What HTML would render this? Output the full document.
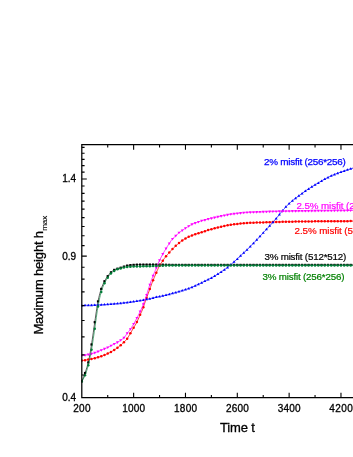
<!DOCTYPE html>
<html><head><meta charset="utf-8"><title>Maximum height vs time</title>
<style>
html,body{margin:0;padding:0;background:#fff;}
body{width:353px;height:457px;overflow:hidden;position:relative;font-family:"Liberation Sans",sans-serif;}
svg text{font-family:"Liberation Sans",sans-serif;}
</style></head><body>
<svg width="353" height="457" viewBox="0 0 353 457" style="position:absolute;left:0;top:0;will-change:transform;opacity:0.999">
<rect width="353" height="457" fill="#fff"/>
<g clip-path="url(#cp)">
<path d="M81.8,381.2 L82.3,380.1 L82.8,378.9 L83.3,377.7 L83.8,376.4 L84.3,375.1 L84.8,373.7 L85.3,372.2 L85.8,370.8 L86.3,369.3 L86.8,367.7 L87.3,366.1 L87.8,364.3 L88.3,362.3 L88.8,360.1 L89.3,357.6 L89.8,354.8 L90.3,351.9 L90.8,348.9 L91.3,345.8 L91.8,342.7 L92.3,339.4 L92.8,335.9 L93.3,332.4 L93.8,328.8 L94.3,325.3 L94.8,321.9 L95.3,318.5 L95.8,315.0 L96.3,311.6 L96.8,308.3 L97.3,305.2 L97.8,302.4 L98.3,300.0 L98.8,297.7 L99.3,295.6 L99.8,293.7 L100.3,291.9 L100.8,290.2 L101.3,288.7 L101.8,287.3 L102.3,286.0 L102.8,284.8 L103.3,283.6 L103.8,282.6 L104.3,281.6 L104.8,280.6 L105.3,279.8 L105.8,279.0 L106.3,278.2 L106.8,277.4 L107.3,276.7 L107.8,276.1 L108.3,275.4 L108.8,274.8 L109.3,274.1 L109.8,273.5 L110.3,273.0 L110.8,272.5 L111.3,272.0 L111.8,271.6 L112.3,271.2 L112.8,270.8 L113.3,270.4 L113.8,270.1 L114.3,269.9 L114.8,269.6 L115.3,269.4 L115.8,269.2 L116.3,269.1 L116.8,268.9 L117.3,268.7 L117.8,268.6 L118.3,268.4 L118.8,268.3 L119.3,268.1 L119.8,268.0 L120.3,267.8 L120.8,267.7 L121.3,267.5 L121.8,267.3 L122.3,267.2 L122.8,267.0 L123.3,266.8 L123.8,266.6 L124.3,266.5 L124.8,266.3 L125.3,266.1 L125.8,266.0 L126.3,265.8 L126.8,265.7 L127.3,265.6 L127.8,265.5 L128.3,265.4 L128.8,265.3 L129.3,265.3 L129.8,265.2 L130.3,265.1 L130.8,265.1 L131.3,265.0 L131.8,265.0 L132.3,264.9 L132.8,264.9 L133.3,264.9 L133.8,264.8 L134.3,264.8 L134.8,264.8 L135.3,264.8 L135.8,264.7 L136.3,264.7 L136.8,264.7 L137.3,264.7 L137.8,264.6 L138.3,264.6 L138.8,264.6 L139.3,264.6 L139.8,264.6 L140.3,264.6 L140.8,264.6 L141.3,264.6 L141.8,264.6 L142.3,264.6 L142.8,264.6 L143.3,264.6 L143.8,264.6 L144.3,264.6 L144.8,264.6 L145.3,264.6 L145.8,264.6 L146.3,264.6 L146.8,264.6 L147.3,264.6 L147.8,264.6 L148.3,264.6 L148.8,264.6 L149.3,264.6 L149.8,264.6 L150.3,264.6 L150.8,264.6 L151.3,264.6 L151.8,264.6 L152.3,264.6 L152.8,264.6 L153.3,264.6 L153.8,264.6 L154.3,264.6 L154.8,264.6 L155.3,264.6 L155.8,264.6 L156.3,264.6 L156.8,264.6 L157.3,264.6 L157.8,264.6 L158.3,264.6 L158.8,264.6 L159.3,264.6 L159.8,264.6 L160.3,264.6 L160.8,264.6 L161.3,264.6 L161.8,264.6 L162.3,264.7 L162.8,264.7 L163.3,264.7 L163.8,264.7 L164.3,264.7 L164.8,264.7 L165.3,264.7 L165.8,264.7 L166.3,264.8 L166.8,264.8 L167.3,264.8 L167.8,264.8 L168.3,264.8 L168.8,264.8 L169.3,264.8 L169.8,264.8 L170.3,264.9 L170.8,264.9 L171.3,264.9 L171.8,264.9 L172.3,264.9 L172.8,264.9 L173.3,264.9 L173.8,264.9 L174.3,264.9 L174.8,264.9 L175.3,264.9 L175.8,264.9 L176.3,264.9 L176.8,264.9 L177.3,264.9 L177.8,264.9 L178.3,264.9 L178.8,264.9 L179.3,264.9 L179.8,264.9 L180.3,264.9 L180.8,264.9 L181.3,264.9 L181.8,264.9 L182.3,264.9 L182.8,264.9 L183.3,264.9 L183.8,264.9 L184.3,264.9 L184.8,264.9 L185.3,264.9 L185.8,264.9 L186.3,264.9 L186.8,264.9 L187.3,264.9 L187.8,264.9 L188.3,264.9 L188.8,264.9 L189.3,264.9 L189.8,264.9 L190.3,264.9 L190.8,264.9 L191.3,264.9 L191.8,264.9 L192.3,264.9 L192.8,264.9 L193.3,264.9 L193.8,264.9 L194.3,264.9 L194.8,264.9 L195.3,264.9 L195.8,264.9 L196.3,264.9 L196.8,264.9 L197.3,264.9 L197.8,264.9 L198.3,264.9 L198.8,264.9 L199.3,264.9 L199.8,264.9 L200.3,264.9 L200.8,264.9 L201.3,264.9 L201.8,264.9 L202.3,264.9 L202.8,264.9 L203.3,264.9 L203.8,264.9 L204.3,264.9 L204.8,264.9 L205.3,264.9 L205.8,264.9 L206.3,264.9 L206.8,264.9 L207.3,264.9 L207.8,264.9 L208.3,264.9 L208.8,264.9 L209.3,264.9 L209.8,264.9 L210.3,264.9 L210.8,264.9 L211.3,264.9 L211.8,264.9 L212.3,264.9 L212.8,264.9 L213.3,264.9 L213.8,264.9 L214.3,264.9 L214.8,264.9 L215.3,264.9 L215.8,264.9 L216.3,264.9 L216.8,264.9 L217.3,264.9 L217.8,264.9 L218.3,264.9 L218.8,264.9 L219.3,264.9 L219.8,264.9 L220.3,264.9 L220.8,264.9 L221.3,264.9 L221.8,264.9 L222.3,264.9 L222.8,264.9 L223.3,264.9 L223.8,264.9 L224.3,264.9 L224.8,264.9 L225.3,264.9 L225.8,264.9 L226.3,264.9 L226.8,264.9 L227.3,264.9 L227.8,264.9 L228.3,264.9 L228.8,264.9 L229.3,264.9 L229.8,264.9 L230.3,264.9 L230.8,264.9 L231.3,264.9 L231.8,264.9 L232.3,264.9 L232.8,264.9 L233.3,264.9 L233.8,264.9 L234.3,264.9 L234.8,264.9 L235.3,264.9 L235.8,264.9 L236.3,264.9 L236.8,264.9 L237.3,264.9 L237.8,264.9 L238.3,264.9 L238.8,264.9 L239.3,264.9 L239.8,264.9 L240.3,264.9 L240.8,264.9 L241.3,264.9 L241.8,264.9 L242.3,264.9 L242.8,264.9 L243.3,264.9 L243.8,264.9 L244.3,264.9 L244.8,264.9 L245.3,264.9 L245.8,264.9 L246.3,264.9 L246.8,264.9 L247.3,264.9 L247.8,264.9 L248.3,264.9 L248.8,264.9 L249.3,264.9 L249.8,264.9 L250.3,264.9 L250.8,264.9 L251.3,264.9 L251.8,264.9 L252.3,264.9 L252.8,264.9 L253.3,264.9 L253.8,264.9 L254.3,264.9 L254.8,264.9 L255.3,264.9 L255.8,264.9 L256.3,264.9 L256.8,264.9 L257.3,264.9 L257.8,264.9 L258.3,264.9 L258.8,264.9 L259.3,264.9 L259.8,264.9 L260.3,264.9 L260.8,264.9 L261.3,264.9 L261.8,264.9 L262.3,264.9 L262.8,264.9 L263.3,264.9 L263.8,264.9 L264.3,264.9 L264.8,264.9 L265.3,264.9 L265.8,264.9 L266.3,264.9 L266.8,264.9 L267.3,264.9 L267.8,264.9 L268.3,264.9 L268.8,264.9 L269.3,264.9 L269.8,264.9 L270.3,264.9 L270.8,264.9 L271.3,264.9 L271.8,264.9 L272.3,264.9 L272.8,264.9 L273.3,264.9 L273.8,264.9 L274.3,264.9 L274.8,264.9 L275.3,264.9 L275.8,264.9 L276.3,264.9 L276.8,264.9 L277.3,264.9 L277.8,264.9 L278.3,264.9 L278.8,264.9 L279.3,264.9 L279.8,264.9 L280.3,264.9 L280.8,264.9 L281.3,264.9 L281.8,264.9 L282.3,264.9 L282.8,264.9 L283.3,264.9 L283.8,264.9 L284.3,264.9 L284.8,264.9 L285.3,264.9 L285.8,264.9 L286.3,264.9 L286.8,264.9 L287.3,264.9 L287.8,264.9 L288.3,264.9 L288.8,264.9 L289.3,264.9 L289.8,264.9 L290.3,264.9 L290.8,264.9 L291.3,264.9 L291.8,264.9 L292.3,264.9 L292.8,264.9 L293.3,264.9 L293.8,264.9 L294.3,264.9 L294.8,264.9 L295.3,264.9 L295.8,264.9 L296.3,264.9 L296.8,264.9 L297.3,264.9 L297.8,264.9 L298.3,264.9 L298.8,264.9 L299.3,264.9 L299.8,264.9 L300.3,264.9 L300.8,264.9 L301.3,264.9 L301.8,264.9 L302.3,264.9 L302.8,264.9 L303.3,264.9 L303.8,264.9 L304.3,264.9 L304.8,264.9 L305.3,264.9 L305.8,264.9 L306.3,264.9 L306.8,264.9 L307.3,264.9 L307.8,264.9 L308.3,264.9 L308.8,264.9 L309.3,264.9 L309.8,264.9 L310.3,264.9 L310.8,264.9 L311.3,264.9 L311.8,264.9 L312.3,264.9 L312.8,264.9 L313.3,264.9 L313.8,264.9 L314.3,264.9 L314.8,264.9 L315.3,264.9 L315.8,264.9 L316.3,264.9 L316.8,264.9 L317.3,264.9 L317.8,264.9 L318.3,264.9 L318.8,264.9 L319.3,264.9 L319.8,264.9 L320.3,264.9 L320.8,264.9 L321.3,264.9 L321.8,264.9 L322.3,264.9 L322.8,264.9 L323.3,264.9 L323.8,264.9 L324.3,264.9 L324.8,264.9 L325.3,264.9 L325.8,264.9 L326.3,264.9 L326.8,264.9 L327.3,264.9 L327.8,264.9 L328.3,264.9 L328.8,264.9 L329.3,264.9 L329.8,264.9 L330.3,264.9 L330.8,264.9 L331.3,264.9 L331.8,264.9 L332.3,264.9 L332.8,264.9 L333.3,264.9 L333.8,264.9 L334.3,264.9 L334.8,264.9 L335.3,264.9 L335.8,264.9 L336.3,264.9 L336.8,264.9 L337.3,264.9 L337.8,264.9 L338.3,264.9 L338.8,264.9 L339.3,264.9 L339.8,264.9 L340.3,264.9 L340.8,264.9 L341.3,264.9 L341.8,264.9 L342.3,264.9 L342.8,264.9 L343.3,264.9 L343.8,264.9 L344.3,264.9 L344.8,264.9 L345.3,264.9 L345.8,264.9 L346.3,264.9 L346.8,264.9 L347.3,264.9 L347.8,264.9 L348.3,264.9 L348.8,264.9 L349.3,264.9 L349.8,264.9 L350.3,264.9 L350.8,264.9 L351.3,264.9 L351.8,264.9 L352.3,264.9 L352.8,264.9 L353.3,264.9 L353.8,264.9 L354.3,264.9 L354.8,264.9 L355.3,264.9 L355.8,264.9 L356.3,264.9 L356.8,264.9 L357.3,264.9 L357.8,264.9" fill="none" stroke="#000" stroke-width="0.65" stroke-linejoin="round"/>
<rect x="80.70" y="380.10" width="2.20" height="2.20" fill="#000"/>
<rect x="83.94" y="371.89" width="2.20" height="2.20" fill="#000"/>
<rect x="87.18" y="361.29" width="2.20" height="2.20" fill="#000"/>
<rect x="90.42" y="343.38" width="2.20" height="2.20" fill="#000"/>
<rect x="93.66" y="321.08" width="2.20" height="2.20" fill="#000"/>
<rect x="96.90" y="300.31" width="2.20" height="2.20" fill="#000"/>
<rect x="100.14" y="287.79" width="2.20" height="2.20" fill="#000"/>
<rect x="103.38" y="280.14" width="2.20" height="2.20" fill="#000"/>
<rect x="106.62" y="275.08" width="2.20" height="2.20" fill="#000"/>
<rect x="109.86" y="271.24" width="2.20" height="2.20" fill="#000"/>
<rect x="113.10" y="268.80" width="2.20" height="2.20" fill="#000"/>
<rect x="116.34" y="267.59" width="2.20" height="2.20" fill="#000"/>
<rect x="119.58" y="266.61" width="2.20" height="2.20" fill="#000"/>
<rect x="122.81" y="265.50" width="2.20" height="2.20" fill="#000"/>
<rect x="126.05" y="264.51" width="2.20" height="2.20" fill="#000"/>
<rect x="129.29" y="264.03" width="2.20" height="2.20" fill="#000"/>
<rect x="132.53" y="263.76" width="2.20" height="2.20" fill="#000"/>
<rect x="135.77" y="263.58" width="2.20" height="2.20" fill="#000"/>
<rect x="139.01" y="263.50" width="2.20" height="2.20" fill="#000"/>
<rect x="142.25" y="263.48" width="2.20" height="2.20" fill="#000"/>
<rect x="145.49" y="263.47" width="2.20" height="2.20" fill="#000"/>
<rect x="148.73" y="263.46" width="2.20" height="2.20" fill="#000"/>
<rect x="151.97" y="263.45" width="2.20" height="2.20" fill="#000"/>
<rect x="155.21" y="263.45" width="2.20" height="2.20" fill="#000"/>
<rect x="158.45" y="263.50" width="2.20" height="2.20" fill="#000"/>
<rect x="161.69" y="263.57" width="2.20" height="2.20" fill="#000"/>
<rect x="164.93" y="263.65" width="2.20" height="2.20" fill="#000"/>
<rect x="168.17" y="263.73" width="2.20" height="2.20" fill="#000"/>
<rect x="171.41" y="263.79" width="2.20" height="2.20" fill="#000"/>
<rect x="174.65" y="263.80" width="2.20" height="2.20" fill="#000"/>
<rect x="177.89" y="263.80" width="2.20" height="2.20" fill="#000"/>
<rect x="181.13" y="263.80" width="2.20" height="2.20" fill="#000"/>
<rect x="184.37" y="263.80" width="2.20" height="2.20" fill="#000"/>
<rect x="187.61" y="263.80" width="2.20" height="2.20" fill="#000"/>
<rect x="190.85" y="263.80" width="2.20" height="2.20" fill="#000"/>
<rect x="194.09" y="263.80" width="2.20" height="2.20" fill="#000"/>
<rect x="197.33" y="263.80" width="2.20" height="2.20" fill="#000"/>
<rect x="200.57" y="263.80" width="2.20" height="2.20" fill="#000"/>
<rect x="203.80" y="263.80" width="2.20" height="2.20" fill="#000"/>
<rect x="207.04" y="263.80" width="2.20" height="2.20" fill="#000"/>
<rect x="210.28" y="263.80" width="2.20" height="2.20" fill="#000"/>
<rect x="213.52" y="263.80" width="2.20" height="2.20" fill="#000"/>
<rect x="216.76" y="263.80" width="2.20" height="2.20" fill="#000"/>
<rect x="220.00" y="263.80" width="2.20" height="2.20" fill="#000"/>
<rect x="223.24" y="263.80" width="2.20" height="2.20" fill="#000"/>
<rect x="226.48" y="263.80" width="2.20" height="2.20" fill="#000"/>
<rect x="229.72" y="263.80" width="2.20" height="2.20" fill="#000"/>
<rect x="232.96" y="263.80" width="2.20" height="2.20" fill="#000"/>
<rect x="236.20" y="263.80" width="2.20" height="2.20" fill="#000"/>
<rect x="239.44" y="263.80" width="2.20" height="2.20" fill="#000"/>
<rect x="242.68" y="263.80" width="2.20" height="2.20" fill="#000"/>
<rect x="245.92" y="263.80" width="2.20" height="2.20" fill="#000"/>
<rect x="249.16" y="263.80" width="2.20" height="2.20" fill="#000"/>
<rect x="252.40" y="263.80" width="2.20" height="2.20" fill="#000"/>
<rect x="255.64" y="263.80" width="2.20" height="2.20" fill="#000"/>
<rect x="258.88" y="263.80" width="2.20" height="2.20" fill="#000"/>
<rect x="262.12" y="263.80" width="2.20" height="2.20" fill="#000"/>
<rect x="265.36" y="263.80" width="2.20" height="2.20" fill="#000"/>
<rect x="268.60" y="263.80" width="2.20" height="2.20" fill="#000"/>
<rect x="271.84" y="263.80" width="2.20" height="2.20" fill="#000"/>
<rect x="275.08" y="263.80" width="2.20" height="2.20" fill="#000"/>
<rect x="278.32" y="263.80" width="2.20" height="2.20" fill="#000"/>
<rect x="281.56" y="263.80" width="2.20" height="2.20" fill="#000"/>
<rect x="284.79" y="263.80" width="2.20" height="2.20" fill="#000"/>
<rect x="288.03" y="263.80" width="2.20" height="2.20" fill="#000"/>
<rect x="291.27" y="263.80" width="2.20" height="2.20" fill="#000"/>
<rect x="294.51" y="263.80" width="2.20" height="2.20" fill="#000"/>
<rect x="297.75" y="263.80" width="2.20" height="2.20" fill="#000"/>
<rect x="300.99" y="263.80" width="2.20" height="2.20" fill="#000"/>
<rect x="304.23" y="263.80" width="2.20" height="2.20" fill="#000"/>
<rect x="307.47" y="263.80" width="2.20" height="2.20" fill="#000"/>
<rect x="310.71" y="263.80" width="2.20" height="2.20" fill="#000"/>
<rect x="313.95" y="263.80" width="2.20" height="2.20" fill="#000"/>
<rect x="317.19" y="263.80" width="2.20" height="2.20" fill="#000"/>
<rect x="320.43" y="263.80" width="2.20" height="2.20" fill="#000"/>
<rect x="323.67" y="263.80" width="2.20" height="2.20" fill="#000"/>
<rect x="326.91" y="263.80" width="2.20" height="2.20" fill="#000"/>
<rect x="330.15" y="263.80" width="2.20" height="2.20" fill="#000"/>
<rect x="333.39" y="263.80" width="2.20" height="2.20" fill="#000"/>
<rect x="336.63" y="263.80" width="2.20" height="2.20" fill="#000"/>
<rect x="339.87" y="263.80" width="2.20" height="2.20" fill="#000"/>
<rect x="343.11" y="263.80" width="2.20" height="2.20" fill="#000"/>
<rect x="346.35" y="263.80" width="2.20" height="2.20" fill="#000"/>
<rect x="349.59" y="263.80" width="2.20" height="2.20" fill="#000"/>
<rect x="352.83" y="263.80" width="2.20" height="2.20" fill="#000"/>
<path d="M81.8,360.6 L82.3,360.5 L82.8,360.5 L83.3,360.4 L83.8,360.3 L84.3,360.3 L84.8,360.2 L85.3,360.1 L85.8,360.0 L86.3,359.9 L86.8,359.8 L87.3,359.8 L87.8,359.7 L88.3,359.6 L88.8,359.5 L89.3,359.4 L89.8,359.3 L90.3,359.2 L90.8,359.1 L91.3,359.0 L91.8,358.8 L92.3,358.7 L92.8,358.6 L93.3,358.5 L93.8,358.4 L94.3,358.3 L94.8,358.1 L95.3,358.0 L95.8,357.9 L96.3,357.8 L96.8,357.6 L97.3,357.5 L97.8,357.3 L98.3,357.2 L98.8,357.0 L99.3,356.9 L99.8,356.7 L100.3,356.6 L100.8,356.4 L101.3,356.2 L101.8,356.1 L102.3,355.9 L102.8,355.7 L103.3,355.5 L103.8,355.3 L104.3,355.1 L104.8,354.9 L105.3,354.7 L105.8,354.5 L106.3,354.3 L106.8,354.0 L107.3,353.8 L107.8,353.6 L108.3,353.3 L108.8,353.0 L109.3,352.8 L109.8,352.5 L110.3,352.2 L110.8,352.0 L111.3,351.7 L111.8,351.4 L112.3,351.1 L112.8,350.8 L113.3,350.5 L113.8,350.2 L114.3,349.9 L114.8,349.6 L115.3,349.3 L115.8,349.0 L116.3,348.6 L116.8,348.3 L117.3,348.0 L117.8,347.6 L118.3,347.2 L118.8,346.8 L119.3,346.4 L119.8,346.0 L120.3,345.5 L120.8,345.1 L121.3,344.7 L121.8,344.2 L122.3,343.8 L122.8,343.3 L123.3,342.8 L123.8,342.3 L124.3,341.9 L124.8,341.4 L125.3,340.9 L125.8,340.3 L126.3,339.8 L126.8,339.2 L127.3,338.5 L127.8,337.7 L128.3,336.9 L128.8,336.1 L129.3,335.2 L129.8,334.4 L130.3,333.5 L130.8,332.6 L131.3,331.8 L131.8,330.9 L132.3,330.0 L132.8,329.2 L133.3,328.3 L133.8,327.4 L134.3,326.6 L134.8,325.8 L135.3,325.0 L135.8,324.1 L136.3,323.2 L136.8,322.2 L137.3,321.2 L137.8,320.1 L138.3,319.0 L138.8,317.9 L139.3,316.7 L139.8,315.5 L140.3,314.3 L140.8,313.4 L141.3,312.4 L141.8,311.2 L142.3,309.9 L142.8,308.6 L143.3,307.4 L143.8,305.9 L144.3,304.4 L144.8,302.9 L145.3,301.5 L145.8,300.1 L146.3,298.8 L146.8,297.4 L147.3,296.0 L147.8,294.6 L148.3,293.2 L148.8,291.9 L149.3,290.5 L149.8,289.1 L150.3,287.7 L150.8,286.3 L151.3,284.9 L151.8,283.5 L152.3,282.2 L152.8,281.0 L153.3,279.8 L153.8,278.6 L154.3,277.4 L154.8,276.2 L155.3,275.1 L155.8,273.9 L156.3,272.7 L156.8,271.5 L157.3,270.4 L157.8,269.3 L158.3,268.2 L158.8,267.2 L159.3,266.3 L159.8,265.4 L160.3,264.5 L160.8,263.7 L161.3,263.0 L161.8,262.2 L162.3,261.5 L162.8,260.7 L163.3,260.0 L163.8,259.2 L164.3,258.5 L164.8,257.9 L165.3,257.2 L165.8,256.6 L166.3,256.0 L166.8,255.4 L167.3,254.8 L167.8,254.2 L168.3,253.7 L168.8,253.1 L169.3,252.6 L169.8,252.0 L170.3,251.4 L170.8,250.9 L171.3,250.3 L171.8,249.8 L172.3,249.3 L172.8,248.7 L173.3,248.2 L173.8,247.7 L174.3,247.2 L174.8,246.8 L175.3,246.3 L175.8,245.8 L176.3,245.4 L176.8,244.9 L177.3,244.5 L177.8,244.0 L178.3,243.6 L178.8,243.2 L179.3,242.8 L179.8,242.4 L180.3,242.0 L180.8,241.6 L181.3,241.2 L181.8,240.9 L182.3,240.5 L182.8,240.2 L183.3,239.9 L183.8,239.6 L184.3,239.3 L184.8,239.0 L185.3,238.7 L185.8,238.4 L186.3,238.1 L186.8,237.8 L187.3,237.5 L187.8,237.2 L188.3,237.0 L188.8,236.7 L189.3,236.5 L189.8,236.3 L190.3,236.1 L190.8,236.0 L191.3,235.8 L191.8,235.6 L192.3,235.4 L192.8,235.2 L193.3,235.0 L193.8,234.8 L194.3,234.6 L194.8,234.4 L195.3,234.2 L195.8,234.0 L196.3,233.8 L196.8,233.7 L197.3,233.5 L197.8,233.4 L198.3,233.2 L198.8,233.1 L199.3,233.0 L199.8,232.8 L200.3,232.7 L200.8,232.6 L201.3,232.5 L201.8,232.3 L202.3,232.2 L202.8,232.0 L203.3,231.8 L203.8,231.7 L204.3,231.5 L204.8,231.3 L205.3,231.1 L205.8,230.9 L206.3,230.7 L206.8,230.5 L207.3,230.4 L207.8,230.2 L208.3,230.0 L208.8,229.9 L209.3,229.8 L209.8,229.7 L210.3,229.5 L210.8,229.4 L211.3,229.3 L211.8,229.2 L212.3,229.0 L212.8,228.9 L213.3,228.7 L213.8,228.6 L214.3,228.5 L214.8,228.3 L215.3,228.2 L215.8,228.0 L216.3,227.9 L216.8,227.8 L217.3,227.7 L217.8,227.5 L218.3,227.4 L218.8,227.3 L219.3,227.2 L219.8,227.0 L220.3,226.9 L220.8,226.8 L221.3,226.7 L221.8,226.6 L222.3,226.4 L222.8,226.3 L223.3,226.2 L223.8,226.1 L224.3,226.0 L224.8,225.9 L225.3,225.8 L225.8,225.7 L226.3,225.6 L226.8,225.5 L227.3,225.4 L227.8,225.3 L228.3,225.2 L228.8,225.1 L229.3,225.0 L229.8,224.9 L230.3,224.8 L230.8,224.8 L231.3,224.7 L231.8,224.6 L232.3,224.6 L232.8,224.5 L233.3,224.4 L233.8,224.4 L234.3,224.3 L234.8,224.2 L235.3,224.2 L235.8,224.1 L236.3,224.1 L236.8,224.0 L237.3,223.9 L237.8,223.9 L238.3,223.8 L238.8,223.8 L239.3,223.7 L239.8,223.7 L240.3,223.6 L240.8,223.5 L241.3,223.5 L241.8,223.4 L242.3,223.4 L242.8,223.3 L243.3,223.3 L243.8,223.2 L244.3,223.2 L244.8,223.1 L245.3,223.1 L245.8,223.1 L246.3,223.0 L246.8,223.0 L247.3,223.0 L247.8,223.0 L248.3,222.9 L248.8,222.9 L249.3,222.9 L249.8,222.9 L250.3,222.9 L250.8,222.8 L251.3,222.8 L251.8,222.8 L252.3,222.8 L252.8,222.8 L253.3,222.7 L253.8,222.7 L254.3,222.7 L254.8,222.7 L255.3,222.7 L255.8,222.6 L256.3,222.6 L256.8,222.6 L257.3,222.6 L257.8,222.6 L258.3,222.6 L258.8,222.5 L259.3,222.5 L259.8,222.5 L260.3,222.5 L260.8,222.5 L261.3,222.5 L261.8,222.4 L262.3,222.4 L262.8,222.4 L263.3,222.4 L263.8,222.4 L264.3,222.3 L264.8,222.3 L265.3,222.3 L265.8,222.3 L266.3,222.3 L266.8,222.2 L267.3,222.2 L267.8,222.2 L268.3,222.2 L268.8,222.2 L269.3,222.2 L269.8,222.1 L270.3,222.1 L270.8,222.1 L271.3,222.1 L271.8,222.1 L272.3,222.1 L272.8,222.1 L273.3,222.0 L273.8,222.0 L274.3,222.0 L274.8,222.0 L275.3,222.0 L275.8,222.0 L276.3,222.0 L276.8,222.0 L277.3,221.9 L277.8,221.9 L278.3,221.9 L278.8,221.9 L279.3,221.9 L279.8,221.9 L280.3,221.9 L280.8,221.9 L281.3,221.9 L281.8,221.8 L282.3,221.8 L282.8,221.8 L283.3,221.8 L283.8,221.8 L284.3,221.8 L284.8,221.8 L285.3,221.8 L285.8,221.8 L286.3,221.8 L286.8,221.7 L287.3,221.7 L287.8,221.7 L288.3,221.7 L288.8,221.7 L289.3,221.7 L289.8,221.7 L290.3,221.7 L290.8,221.7 L291.3,221.7 L291.8,221.6 L292.3,221.6 L292.8,221.6 L293.3,221.6 L293.8,221.6 L294.3,221.6 L294.8,221.6 L295.3,221.6 L295.8,221.6 L296.3,221.6 L296.8,221.6 L297.3,221.6 L297.8,221.5 L298.3,221.5 L298.8,221.5 L299.3,221.5 L299.8,221.5 L300.3,221.5 L300.8,221.5 L301.3,221.5 L301.8,221.5 L302.3,221.5 L302.8,221.5 L303.3,221.5 L303.8,221.5 L304.3,221.5 L304.8,221.5 L305.3,221.4 L305.8,221.4 L306.3,221.4 L306.8,221.4 L307.3,221.4 L307.8,221.4 L308.3,221.4 L308.8,221.4 L309.3,221.4 L309.8,221.4 L310.3,221.4 L310.8,221.4 L311.3,221.4 L311.8,221.4 L312.3,221.4 L312.8,221.4 L313.3,221.4 L313.8,221.4 L314.3,221.4 L314.8,221.4 L315.3,221.4 L315.8,221.3 L316.3,221.3 L316.8,221.3 L317.3,221.3 L317.8,221.3 L318.3,221.3 L318.8,221.3 L319.3,221.3 L319.8,221.3 L320.3,221.3 L320.8,221.3 L321.3,221.3 L321.8,221.3 L322.3,221.3 L322.8,221.3 L323.3,221.3 L323.8,221.3 L324.3,221.3 L324.8,221.3 L325.3,221.3 L325.8,221.3 L326.3,221.3 L326.8,221.3 L327.3,221.2 L327.8,221.2 L328.3,221.2 L328.8,221.2 L329.3,221.2 L329.8,221.2 L330.3,221.2 L330.8,221.2 L331.3,221.2 L331.8,221.2 L332.3,221.2 L332.8,221.2 L333.3,221.2 L333.8,221.2 L334.3,221.2 L334.8,221.2 L335.3,221.2 L335.8,221.2 L336.3,221.2 L336.8,221.2 L337.3,221.2 L337.8,221.2 L338.3,221.2 L338.8,221.2 L339.3,221.2 L339.8,221.2 L340.3,221.2 L340.8,221.2 L341.3,221.2 L341.8,221.2 L342.3,221.1 L342.8,221.1 L343.3,221.1 L343.8,221.1 L344.3,221.1 L344.8,221.1 L345.3,221.1 L345.8,221.1 L346.3,221.1 L346.8,221.1 L347.3,221.1 L347.8,221.1 L348.3,221.1 L348.8,221.1 L349.3,221.1 L349.8,221.1 L350.3,221.1 L350.8,221.1 L351.3,221.1 L351.8,221.1 L352.3,221.1 L352.8,221.1 L353.3,221.1 L353.8,221.1 L354.3,221.1 L354.8,221.1 L355.3,221.1 L355.8,221.1 L356.3,221.1 L356.8,221.1 L357.3,221.1 L357.8,221.1" fill="none" stroke="#ff0000" stroke-width="0.8" stroke-linejoin="round"/>
<circle cx="81.80" cy="360.60" r="1.25" fill="#ff0000"/>
<circle cx="85.04" cy="360.14" r="1.25" fill="#ff0000"/>
<circle cx="88.28" cy="359.57" r="1.25" fill="#ff0000"/>
<circle cx="91.52" cy="358.91" r="1.25" fill="#ff0000"/>
<circle cx="94.76" cy="358.15" r="1.25" fill="#ff0000"/>
<circle cx="98.00" cy="357.27" r="1.25" fill="#ff0000"/>
<circle cx="101.24" cy="356.25" r="1.25" fill="#ff0000"/>
<circle cx="104.48" cy="355.07" r="1.25" fill="#ff0000"/>
<circle cx="107.72" cy="353.60" r="1.25" fill="#ff0000"/>
<circle cx="110.96" cy="351.88" r="1.25" fill="#ff0000"/>
<circle cx="114.20" cy="349.98" r="1.25" fill="#ff0000"/>
<circle cx="117.44" cy="347.87" r="1.25" fill="#ff0000"/>
<circle cx="120.68" cy="345.21" r="1.25" fill="#ff0000"/>
<circle cx="123.91" cy="342.23" r="1.25" fill="#ff0000"/>
<circle cx="127.15" cy="338.71" r="1.25" fill="#ff0000"/>
<circle cx="130.39" cy="333.34" r="1.25" fill="#ff0000"/>
<circle cx="133.63" cy="327.67" r="1.25" fill="#ff0000"/>
<circle cx="136.87" cy="322.07" r="1.25" fill="#ff0000"/>
<circle cx="140.11" cy="314.68" r="1.25" fill="#ff0000"/>
<circle cx="143.35" cy="307.24" r="1.25" fill="#ff0000"/>
<circle cx="146.59" cy="297.98" r="1.25" fill="#ff0000"/>
<circle cx="149.83" cy="288.97" r="1.25" fill="#ff0000"/>
<circle cx="153.07" cy="280.32" r="1.25" fill="#ff0000"/>
<circle cx="156.31" cy="272.70" r="1.25" fill="#ff0000"/>
<circle cx="159.55" cy="265.81" r="1.25" fill="#ff0000"/>
<circle cx="162.79" cy="260.71" r="1.25" fill="#ff0000"/>
<circle cx="166.03" cy="256.29" r="1.25" fill="#ff0000"/>
<circle cx="169.27" cy="252.61" r="1.25" fill="#ff0000"/>
<circle cx="172.51" cy="249.05" r="1.25" fill="#ff0000"/>
<circle cx="175.75" cy="245.86" r="1.25" fill="#ff0000"/>
<circle cx="178.99" cy="243.02" r="1.25" fill="#ff0000"/>
<circle cx="182.23" cy="240.59" r="1.25" fill="#ff0000"/>
<circle cx="185.47" cy="238.58" r="1.25" fill="#ff0000"/>
<circle cx="188.71" cy="236.77" r="1.25" fill="#ff0000"/>
<circle cx="191.95" cy="235.55" r="1.25" fill="#ff0000"/>
<circle cx="195.19" cy="234.23" r="1.25" fill="#ff0000"/>
<circle cx="198.43" cy="233.19" r="1.25" fill="#ff0000"/>
<circle cx="201.67" cy="232.36" r="1.25" fill="#ff0000"/>
<circle cx="204.90" cy="231.28" r="1.25" fill="#ff0000"/>
<circle cx="208.14" cy="230.09" r="1.25" fill="#ff0000"/>
<circle cx="211.38" cy="229.28" r="1.25" fill="#ff0000"/>
<circle cx="214.62" cy="228.37" r="1.25" fill="#ff0000"/>
<circle cx="217.86" cy="227.52" r="1.25" fill="#ff0000"/>
<circle cx="221.10" cy="226.73" r="1.25" fill="#ff0000"/>
<circle cx="224.34" cy="226.00" r="1.25" fill="#ff0000"/>
<circle cx="227.58" cy="225.36" r="1.25" fill="#ff0000"/>
<circle cx="230.82" cy="224.76" r="1.25" fill="#ff0000"/>
<circle cx="234.06" cy="224.32" r="1.25" fill="#ff0000"/>
<circle cx="237.30" cy="223.95" r="1.25" fill="#ff0000"/>
<circle cx="240.54" cy="223.58" r="1.25" fill="#ff0000"/>
<circle cx="243.78" cy="223.23" r="1.25" fill="#ff0000"/>
<circle cx="247.02" cy="223.00" r="1.25" fill="#ff0000"/>
<circle cx="250.26" cy="222.86" r="1.25" fill="#ff0000"/>
<circle cx="253.50" cy="222.73" r="1.25" fill="#ff0000"/>
<circle cx="256.74" cy="222.62" r="1.25" fill="#ff0000"/>
<circle cx="259.98" cy="222.50" r="1.25" fill="#ff0000"/>
<circle cx="263.22" cy="222.38" r="1.25" fill="#ff0000"/>
<circle cx="266.46" cy="222.26" r="1.25" fill="#ff0000"/>
<circle cx="269.70" cy="222.15" r="1.25" fill="#ff0000"/>
<circle cx="272.94" cy="222.05" r="1.25" fill="#ff0000"/>
<circle cx="276.18" cy="221.97" r="1.25" fill="#ff0000"/>
<circle cx="279.42" cy="221.90" r="1.25" fill="#ff0000"/>
<circle cx="282.66" cy="221.83" r="1.25" fill="#ff0000"/>
<circle cx="285.89" cy="221.76" r="1.25" fill="#ff0000"/>
<circle cx="289.13" cy="221.70" r="1.25" fill="#ff0000"/>
<circle cx="292.37" cy="221.64" r="1.25" fill="#ff0000"/>
<circle cx="295.61" cy="221.58" r="1.25" fill="#ff0000"/>
<circle cx="298.85" cy="221.53" r="1.25" fill="#ff0000"/>
<circle cx="302.09" cy="221.49" r="1.25" fill="#ff0000"/>
<circle cx="305.33" cy="221.45" r="1.25" fill="#ff0000"/>
<circle cx="308.57" cy="221.41" r="1.25" fill="#ff0000"/>
<circle cx="311.81" cy="221.38" r="1.25" fill="#ff0000"/>
<circle cx="315.05" cy="221.35" r="1.25" fill="#ff0000"/>
<circle cx="318.29" cy="221.33" r="1.25" fill="#ff0000"/>
<circle cx="321.53" cy="221.30" r="1.25" fill="#ff0000"/>
<circle cx="324.77" cy="221.27" r="1.25" fill="#ff0000"/>
<circle cx="328.01" cy="221.24" r="1.25" fill="#ff0000"/>
<circle cx="331.25" cy="221.22" r="1.25" fill="#ff0000"/>
<circle cx="334.49" cy="221.20" r="1.25" fill="#ff0000"/>
<circle cx="337.73" cy="221.18" r="1.25" fill="#ff0000"/>
<circle cx="340.97" cy="221.16" r="1.25" fill="#ff0000"/>
<circle cx="344.21" cy="221.14" r="1.25" fill="#ff0000"/>
<circle cx="347.45" cy="221.13" r="1.25" fill="#ff0000"/>
<circle cx="350.69" cy="221.11" r="1.25" fill="#ff0000"/>
<circle cx="353.93" cy="221.11" r="1.25" fill="#ff0000"/>
<path d="M81.8,305.4 L82.3,305.4 L82.8,305.4 L83.3,305.4 L83.8,305.4 L84.3,305.4 L84.8,305.4 L85.3,305.4 L85.8,305.3 L86.3,305.3 L86.8,305.3 L87.3,305.3 L87.8,305.3 L88.3,305.3 L88.8,305.3 L89.3,305.3 L89.8,305.2 L90.3,305.2 L90.8,305.2 L91.3,305.2 L91.8,305.2 L92.3,305.2 L92.8,305.1 L93.3,305.1 L93.8,305.1 L94.3,305.1 L94.8,305.0 L95.3,305.0 L95.8,305.0 L96.3,305.0 L96.8,305.0 L97.3,304.9 L97.8,304.9 L98.3,304.9 L98.8,304.8 L99.3,304.8 L99.8,304.8 L100.3,304.8 L100.8,304.7 L101.3,304.7 L101.8,304.7 L102.3,304.7 L102.8,304.6 L103.3,304.6 L103.8,304.6 L104.3,304.5 L104.8,304.5 L105.3,304.5 L105.8,304.5 L106.3,304.4 L106.8,304.4 L107.3,304.4 L107.8,304.3 L108.3,304.3 L108.8,304.3 L109.3,304.2 L109.8,304.2 L110.3,304.2 L110.8,304.1 L111.3,304.1 L111.8,304.0 L112.3,304.0 L112.8,303.9 L113.3,303.9 L113.8,303.8 L114.3,303.8 L114.8,303.7 L115.3,303.7 L115.8,303.6 L116.3,303.6 L116.8,303.5 L117.3,303.5 L117.8,303.4 L118.3,303.4 L118.8,303.3 L119.3,303.3 L119.8,303.2 L120.3,303.2 L120.8,303.1 L121.3,303.1 L121.8,303.0 L122.3,303.0 L122.8,302.9 L123.3,302.8 L123.8,302.8 L124.3,302.7 L124.8,302.7 L125.3,302.6 L125.8,302.6 L126.3,302.5 L126.8,302.5 L127.3,302.4 L127.8,302.3 L128.3,302.3 L128.8,302.2 L129.3,302.2 L129.8,302.1 L130.3,302.0 L130.8,302.0 L131.3,301.9 L131.8,301.8 L132.3,301.8 L132.8,301.7 L133.3,301.6 L133.8,301.6 L134.3,301.5 L134.8,301.4 L135.3,301.4 L135.8,301.3 L136.3,301.2 L136.8,301.1 L137.3,301.0 L137.8,301.0 L138.3,300.9 L138.8,300.8 L139.3,300.7 L139.8,300.6 L140.3,300.5 L140.8,300.5 L141.3,300.4 L141.8,300.3 L142.3,300.2 L142.8,300.1 L143.3,300.0 L143.8,299.9 L144.3,299.8 L144.8,299.7 L145.3,299.6 L145.8,299.5 L146.3,299.4 L146.8,299.3 L147.3,299.2 L147.8,299.1 L148.3,299.0 L148.8,298.9 L149.3,298.8 L149.8,298.7 L150.3,298.6 L150.8,298.4 L151.3,298.3 L151.8,298.2 L152.3,298.1 L152.8,298.0 L153.3,297.8 L153.8,297.7 L154.3,297.6 L154.8,297.5 L155.3,297.3 L155.8,297.2 L156.3,297.1 L156.8,297.0 L157.3,296.9 L157.8,296.8 L158.3,296.7 L158.8,296.6 L159.3,296.5 L159.8,296.4 L160.3,296.3 L160.8,296.2 L161.3,296.1 L161.8,296.0 L162.3,295.9 L162.8,295.8 L163.3,295.7 L163.8,295.6 L164.3,295.5 L164.8,295.4 L165.3,295.3 L165.8,295.1 L166.3,295.0 L166.8,294.9 L167.3,294.8 L167.8,294.6 L168.3,294.5 L168.8,294.4 L169.3,294.2 L169.8,294.1 L170.3,294.0 L170.8,293.8 L171.3,293.7 L171.8,293.6 L172.3,293.4 L172.8,293.3 L173.3,293.1 L173.8,293.0 L174.3,292.9 L174.8,292.7 L175.3,292.6 L175.8,292.4 L176.3,292.3 L176.8,292.2 L177.3,292.0 L177.8,291.9 L178.3,291.8 L178.8,291.6 L179.3,291.5 L179.8,291.3 L180.3,291.2 L180.8,291.0 L181.3,290.9 L181.8,290.7 L182.3,290.6 L182.8,290.4 L183.3,290.3 L183.8,290.1 L184.3,289.9 L184.8,289.8 L185.3,289.6 L185.8,289.4 L186.3,289.3 L186.8,289.1 L187.3,288.9 L187.8,288.7 L188.3,288.5 L188.8,288.4 L189.3,288.2 L189.8,288.0 L190.3,287.8 L190.8,287.6 L191.3,287.4 L191.8,287.2 L192.3,287.0 L192.8,286.8 L193.3,286.6 L193.8,286.4 L194.3,286.1 L194.8,285.9 L195.3,285.7 L195.8,285.5 L196.3,285.2 L196.8,285.0 L197.3,284.8 L197.8,284.5 L198.3,284.3 L198.8,284.1 L199.3,283.8 L199.8,283.6 L200.3,283.4 L200.8,283.1 L201.3,282.9 L201.8,282.6 L202.3,282.4 L202.8,282.1 L203.3,281.9 L203.8,281.6 L204.3,281.4 L204.8,281.1 L205.3,280.9 L205.8,280.6 L206.3,280.4 L206.8,280.1 L207.3,279.9 L207.8,279.7 L208.3,279.4 L208.8,279.2 L209.3,278.9 L209.8,278.7 L210.3,278.4 L210.8,278.2 L211.3,277.9 L211.8,277.7 L212.3,277.4 L212.8,277.1 L213.3,276.8 L213.8,276.5 L214.3,276.2 L214.8,275.9 L215.3,275.6 L215.8,275.3 L216.3,275.0 L216.8,274.7 L217.3,274.3 L217.8,274.0 L218.3,273.7 L218.8,273.4 L219.3,273.0 L219.8,272.7 L220.3,272.4 L220.8,272.1 L221.3,271.8 L221.8,271.4 L222.3,271.1 L222.8,270.8 L223.3,270.5 L223.8,270.2 L224.3,269.8 L224.8,269.5 L225.3,269.1 L225.8,268.8 L226.3,268.4 L226.8,268.0 L227.3,267.6 L227.8,267.2 L228.3,266.8 L228.8,266.4 L229.3,266.0 L229.8,265.6 L230.3,265.1 L230.8,264.7 L231.3,264.3 L231.8,263.8 L232.3,263.4 L232.8,263.0 L233.3,262.5 L233.8,262.1 L234.3,261.7 L234.8,261.2 L235.3,260.8 L235.8,260.3 L236.3,259.8 L236.8,259.4 L237.3,258.9 L237.8,258.4 L238.3,258.0 L238.8,257.5 L239.3,257.0 L239.8,256.6 L240.3,256.1 L240.8,255.6 L241.3,255.1 L241.8,254.6 L242.3,254.1 L242.8,253.6 L243.3,253.1 L243.8,252.7 L244.3,252.2 L244.8,251.8 L245.3,251.3 L245.8,250.9 L246.3,250.5 L246.8,250.0 L247.3,249.6 L247.8,249.0 L248.3,248.5 L248.8,248.0 L249.3,247.4 L249.8,246.9 L250.3,246.4 L250.8,245.9 L251.3,245.4 L251.8,244.9 L252.3,244.4 L252.8,243.9 L253.3,243.4 L253.8,242.9 L254.3,242.4 L254.8,241.9 L255.3,241.4 L255.8,240.9 L256.3,240.3 L256.8,239.8 L257.3,239.3 L257.8,238.7 L258.3,238.2 L258.8,237.6 L259.3,237.1 L259.8,236.5 L260.3,236.0 L260.8,235.4 L261.3,234.9 L261.8,234.3 L262.3,233.8 L262.8,233.2 L263.3,232.7 L263.8,232.2 L264.3,231.6 L264.8,231.1 L265.3,230.6 L265.8,230.1 L266.3,229.5 L266.8,229.0 L267.3,228.4 L267.8,227.9 L268.3,227.4 L268.8,226.8 L269.3,226.3 L269.8,225.7 L270.3,225.2 L270.8,224.6 L271.3,224.1 L271.8,223.5 L272.3,222.9 L272.8,222.4 L273.3,221.8 L273.8,221.2 L274.3,220.6 L274.8,220.1 L275.3,219.5 L275.8,218.9 L276.3,218.3 L276.8,217.7 L277.3,217.1 L277.8,216.5 L278.3,215.9 L278.8,215.3 L279.3,214.7 L279.8,214.1 L280.3,213.4 L280.8,212.8 L281.3,212.2 L281.8,211.6 L282.3,211.0 L282.8,210.4 L283.3,209.8 L283.8,209.2 L284.3,208.7 L284.8,208.1 L285.3,207.5 L285.8,207.0 L286.3,206.4 L286.8,205.9 L287.3,205.4 L287.8,204.9 L288.3,204.4 L288.8,203.9 L289.3,203.5 L289.8,203.0 L290.3,202.6 L290.8,202.1 L291.3,201.7 L291.8,201.3 L292.3,200.9 L292.8,200.4 L293.3,200.0 L293.8,199.6 L294.3,199.2 L294.8,198.9 L295.3,198.5 L295.8,198.1 L296.3,197.7 L296.8,197.3 L297.3,196.9 L297.8,196.6 L298.3,196.2 L298.8,195.8 L299.3,195.4 L299.8,195.1 L300.3,194.7 L300.8,194.4 L301.3,194.0 L301.8,193.6 L302.3,193.3 L302.8,192.9 L303.3,192.6 L303.8,192.2 L304.3,191.8 L304.8,191.5 L305.3,191.1 L305.8,190.8 L306.3,190.4 L306.8,190.1 L307.3,189.7 L307.8,189.4 L308.3,189.1 L308.8,188.7 L309.3,188.4 L309.8,188.1 L310.3,187.8 L310.8,187.4 L311.3,187.1 L311.8,186.8 L312.3,186.5 L312.8,186.2 L313.3,185.9 L313.8,185.6 L314.3,185.3 L314.8,185.0 L315.3,184.7 L315.8,184.4 L316.3,184.1 L316.8,183.8 L317.3,183.5 L317.8,183.2 L318.3,182.9 L318.8,182.6 L319.3,182.3 L319.8,182.0 L320.3,181.7 L320.8,181.4 L321.3,181.1 L321.8,180.8 L322.3,180.5 L322.8,180.2 L323.3,179.9 L323.8,179.7 L324.3,179.4 L324.8,179.1 L325.3,178.8 L325.8,178.6 L326.3,178.3 L326.8,178.0 L327.3,177.7 L327.8,177.5 L328.3,177.2 L328.8,177.0 L329.3,176.7 L329.8,176.5 L330.3,176.2 L330.8,176.0 L331.3,175.7 L331.8,175.5 L332.3,175.3 L332.8,175.1 L333.3,174.9 L333.8,174.7 L334.3,174.5 L334.8,174.3 L335.3,174.1 L335.8,173.9 L336.3,173.7 L336.8,173.5 L337.3,173.3 L337.8,173.2 L338.3,173.0 L338.8,172.8 L339.3,172.6 L339.8,172.4 L340.3,172.3 L340.8,172.1 L341.3,171.9 L341.8,171.7 L342.3,171.6 L342.8,171.4 L343.3,171.2 L343.8,171.0 L344.3,170.8 L344.8,170.7 L345.3,170.5 L345.8,170.3 L346.3,170.1 L346.8,170.0 L347.3,169.8 L347.8,169.6 L348.3,169.5 L348.8,169.3 L349.3,169.2 L349.8,169.0 L350.3,168.8 L350.8,168.7 L351.3,168.5 L351.8,168.4 L352.3,168.3 L352.8,168.1 L353.3,168.0 L353.8,167.9 L354.3,167.7 L354.8,167.6 L355.3,167.5 L355.8,167.4 L356.3,167.3 L356.8,167.2 L357.3,167.1 L357.8,166.9" fill="none" stroke="#0000ff" stroke-width="0.8" stroke-linejoin="round"/>
<path d="M81.80,303.90 L83.24,306.40 L80.36,306.40Z" fill="#0000ff"/>
<path d="M85.04,303.86 L86.48,306.36 L83.60,306.36Z" fill="#0000ff"/>
<path d="M88.28,303.79 L89.72,306.29 L86.84,306.29Z" fill="#0000ff"/>
<path d="M91.52,303.68 L92.96,306.18 L90.08,306.18Z" fill="#0000ff"/>
<path d="M94.76,303.55 L96.20,306.05 L93.32,306.05Z" fill="#0000ff"/>
<path d="M98.00,303.39 L99.44,305.89 L96.56,305.89Z" fill="#0000ff"/>
<path d="M101.24,303.22 L102.68,305.72 L99.80,305.72Z" fill="#0000ff"/>
<path d="M104.48,303.03 L105.91,305.53 L103.04,305.53Z" fill="#0000ff"/>
<path d="M107.72,302.84 L109.15,305.34 L106.28,305.34Z" fill="#0000ff"/>
<path d="M110.96,302.61 L112.39,305.11 L109.52,305.11Z" fill="#0000ff"/>
<path d="M114.20,302.31 L115.63,304.81 L112.76,304.81Z" fill="#0000ff"/>
<path d="M117.44,301.97 L118.87,304.47 L116.00,304.47Z" fill="#0000ff"/>
<path d="M120.68,301.63 L122.11,304.13 L119.24,304.13Z" fill="#0000ff"/>
<path d="M123.91,301.28 L125.35,303.78 L122.48,303.78Z" fill="#0000ff"/>
<path d="M127.15,300.92 L128.59,303.42 L125.72,303.42Z" fill="#0000ff"/>
<path d="M130.39,300.52 L131.83,303.02 L128.96,303.02Z" fill="#0000ff"/>
<path d="M133.63,300.09 L135.07,302.59 L132.20,302.59Z" fill="#0000ff"/>
<path d="M136.87,299.62 L138.31,302.12 L135.44,302.12Z" fill="#0000ff"/>
<path d="M140.11,299.08 L141.55,301.58 L138.68,301.58Z" fill="#0000ff"/>
<path d="M143.35,298.48 L144.79,300.98 L141.91,300.98Z" fill="#0000ff"/>
<path d="M146.59,297.85 L148.03,300.35 L145.15,300.35Z" fill="#0000ff"/>
<path d="M149.83,297.17 L151.27,299.67 L148.39,299.67Z" fill="#0000ff"/>
<path d="M153.07,296.38 L154.51,298.88 L151.63,298.88Z" fill="#0000ff"/>
<path d="M156.31,295.60 L157.75,298.10 L154.87,298.10Z" fill="#0000ff"/>
<path d="M159.55,294.95 L160.99,297.45 L158.11,297.45Z" fill="#0000ff"/>
<path d="M162.79,294.34 L164.23,296.84 L161.35,296.84Z" fill="#0000ff"/>
<path d="M166.03,293.58 L167.47,296.08 L164.59,296.08Z" fill="#0000ff"/>
<path d="M169.27,292.74 L170.71,295.24 L167.83,295.24Z" fill="#0000ff"/>
<path d="M172.51,291.86 L173.95,294.36 L171.07,294.36Z" fill="#0000ff"/>
<path d="M175.75,290.96 L177.19,293.46 L174.31,293.46Z" fill="#0000ff"/>
<path d="M178.99,290.08 L180.43,292.58 L177.55,292.58Z" fill="#0000ff"/>
<path d="M182.23,289.11 L183.67,291.61 L180.79,291.61Z" fill="#0000ff"/>
<path d="M185.47,288.04 L186.90,290.54 L184.03,290.54Z" fill="#0000ff"/>
<path d="M188.71,286.89 L190.14,289.39 L187.27,289.39Z" fill="#0000ff"/>
<path d="M191.95,285.64 L193.38,288.14 L190.51,288.14Z" fill="#0000ff"/>
<path d="M195.19,284.25 L196.62,286.75 L193.75,286.75Z" fill="#0000ff"/>
<path d="M198.43,282.75 L199.86,285.25 L196.99,285.25Z" fill="#0000ff"/>
<path d="M201.67,281.17 L203.10,283.67 L200.23,283.67Z" fill="#0000ff"/>
<path d="M204.90,279.56 L206.34,282.06 L203.47,282.06Z" fill="#0000ff"/>
<path d="M208.14,278.00 L209.58,280.50 L206.71,280.50Z" fill="#0000ff"/>
<path d="M211.38,276.40 L212.82,278.90 L209.95,278.90Z" fill="#0000ff"/>
<path d="M214.62,274.53 L216.06,277.03 L213.19,277.03Z" fill="#0000ff"/>
<path d="M217.86,272.47 L219.30,274.97 L216.43,274.97Z" fill="#0000ff"/>
<path d="M221.10,270.39 L222.54,272.89 L219.67,272.89Z" fill="#0000ff"/>
<path d="M224.34,268.30 L225.78,270.80 L222.90,270.80Z" fill="#0000ff"/>
<path d="M227.58,265.90 L229.02,268.40 L226.14,268.40Z" fill="#0000ff"/>
<path d="M230.82,263.20 L232.26,265.70 L229.38,265.70Z" fill="#0000ff"/>
<path d="M234.06,260.37 L235.50,262.87 L232.62,262.87Z" fill="#0000ff"/>
<path d="M237.30,257.41 L238.74,259.91 L235.86,259.91Z" fill="#0000ff"/>
<path d="M240.54,254.33 L241.98,256.83 L239.10,256.83Z" fill="#0000ff"/>
<path d="M243.78,251.18 L245.22,253.68 L242.34,253.68Z" fill="#0000ff"/>
<path d="M247.02,248.33 L248.46,250.83 L245.58,250.83Z" fill="#0000ff"/>
<path d="M250.26,244.90 L251.70,247.40 L248.82,247.40Z" fill="#0000ff"/>
<path d="M253.50,241.72 L254.94,244.22 L252.06,244.22Z" fill="#0000ff"/>
<path d="M256.74,238.36 L258.18,240.86 L255.30,240.86Z" fill="#0000ff"/>
<path d="M259.98,234.82 L261.42,237.32 L258.54,237.32Z" fill="#0000ff"/>
<path d="M263.22,231.28 L264.66,233.78 L261.78,233.78Z" fill="#0000ff"/>
<path d="M266.46,227.85 L267.89,230.35 L265.02,230.35Z" fill="#0000ff"/>
<path d="M269.70,224.33 L271.13,226.83 L268.26,226.83Z" fill="#0000ff"/>
<path d="M272.94,220.70 L274.37,223.20 L271.50,223.20Z" fill="#0000ff"/>
<path d="M276.18,216.97 L277.61,219.47 L274.74,219.47Z" fill="#0000ff"/>
<path d="M279.42,213.06 L280.85,215.56 L277.98,215.56Z" fill="#0000ff"/>
<path d="M282.66,209.05 L284.09,211.55 L281.22,211.55Z" fill="#0000ff"/>
<path d="M285.89,205.37 L287.33,207.87 L284.46,207.87Z" fill="#0000ff"/>
<path d="M289.13,202.11 L290.57,204.61 L287.70,204.61Z" fill="#0000ff"/>
<path d="M292.37,199.30 L293.81,201.80 L290.94,201.80Z" fill="#0000ff"/>
<path d="M295.61,196.73 L297.05,199.23 L294.18,199.23Z" fill="#0000ff"/>
<path d="M298.85,194.27 L300.29,196.77 L297.42,196.77Z" fill="#0000ff"/>
<path d="M302.09,191.94 L303.53,194.44 L300.66,194.44Z" fill="#0000ff"/>
<path d="M305.33,189.60 L306.77,192.10 L303.89,192.10Z" fill="#0000ff"/>
<path d="M308.57,187.38 L310.01,189.88 L307.13,189.88Z" fill="#0000ff"/>
<path d="M311.81,185.31 L313.25,187.81 L310.37,187.81Z" fill="#0000ff"/>
<path d="M315.05,183.35 L316.49,185.85 L313.61,185.85Z" fill="#0000ff"/>
<path d="M318.29,181.40 L319.73,183.90 L316.85,183.90Z" fill="#0000ff"/>
<path d="M321.53,179.45 L322.97,181.95 L320.09,181.95Z" fill="#0000ff"/>
<path d="M324.77,177.62 L326.21,180.12 L323.33,180.12Z" fill="#0000ff"/>
<path d="M328.01,175.88 L329.45,178.38 L326.57,178.38Z" fill="#0000ff"/>
<path d="M331.25,174.27 L332.69,176.77 L329.81,176.77Z" fill="#0000ff"/>
<path d="M334.49,172.90 L335.93,175.40 L333.05,175.40Z" fill="#0000ff"/>
<path d="M337.73,171.68 L339.17,174.18 L336.29,174.18Z" fill="#0000ff"/>
<path d="M340.97,170.52 L342.41,173.02 L339.53,173.02Z" fill="#0000ff"/>
<path d="M344.21,169.38 L345.65,171.88 L342.77,171.88Z" fill="#0000ff"/>
<path d="M347.45,168.26 L348.88,170.76 L346.01,170.76Z" fill="#0000ff"/>
<path d="M350.69,167.23 L352.12,169.73 L349.25,169.73Z" fill="#0000ff"/>
<path d="M353.93,166.33 L355.36,168.83 L352.49,168.83Z" fill="#0000ff"/>
<path d="M81.8,355.6 L82.3,355.6 L82.8,355.5 L83.3,355.4 L83.8,355.4 L84.3,355.3 L84.8,355.2 L85.3,355.2 L85.8,355.1 L86.3,355.0 L86.8,354.9 L87.3,354.8 L87.8,354.7 L88.3,354.6 L88.8,354.5 L89.3,354.4 L89.8,354.3 L90.3,354.2 L90.8,354.1 L91.3,354.0 L91.8,353.8 L92.3,353.7 L92.8,353.5 L93.3,353.4 L93.8,353.2 L94.3,353.0 L94.8,352.9 L95.3,352.7 L95.8,352.5 L96.3,352.3 L96.8,352.1 L97.3,351.9 L97.8,351.7 L98.3,351.5 L98.8,351.3 L99.3,351.1 L99.8,350.9 L100.3,350.6 L100.8,350.4 L101.3,350.2 L101.8,350.0 L102.3,349.8 L102.8,349.6 L103.3,349.4 L103.8,349.2 L104.3,349.0 L104.8,348.8 L105.3,348.6 L105.8,348.3 L106.3,348.1 L106.8,347.9 L107.3,347.6 L107.8,347.4 L108.3,347.2 L108.8,346.9 L109.3,346.7 L109.8,346.4 L110.3,346.2 L110.8,345.9 L111.3,345.6 L111.8,345.3 L112.3,345.1 L112.8,344.8 L113.3,344.5 L113.8,344.2 L114.3,343.9 L114.8,343.7 L115.3,343.5 L115.8,343.2 L116.3,343.0 L116.8,342.7 L117.3,342.4 L117.8,342.1 L118.3,341.8 L118.8,341.5 L119.3,341.2 L119.8,340.9 L120.3,340.5 L120.8,340.2 L121.3,339.8 L121.8,339.5 L122.3,339.1 L122.8,338.7 L123.3,338.4 L123.8,338.0 L124.3,337.4 L124.8,336.7 L125.3,336.0 L125.8,335.4 L126.3,334.6 L126.8,333.9 L127.3,333.1 L127.8,332.4 L128.3,331.8 L128.8,331.3 L129.3,330.7 L129.8,330.0 L130.3,329.4 L130.8,328.7 L131.3,327.9 L131.8,327.1 L132.3,326.2 L132.8,325.4 L133.3,324.6 L133.8,323.7 L134.3,322.9 L134.8,322.0 L135.3,321.1 L135.8,320.1 L136.3,319.2 L136.8,318.2 L137.3,317.2 L137.8,316.3 L138.3,315.3 L138.8,314.3 L139.3,313.3 L139.8,312.3 L140.3,311.2 L140.8,310.2 L141.3,309.1 L141.8,308.0 L142.3,306.8 L142.8,305.6 L143.3,304.3 L143.8,303.0 L144.3,301.6 L144.8,300.2 L145.3,298.8 L145.8,297.3 L146.3,295.8 L146.8,294.3 L147.3,292.7 L147.8,291.1 L148.3,289.5 L148.8,287.8 L149.3,286.3 L149.8,284.8 L150.3,283.4 L150.8,281.9 L151.3,280.5 L151.8,279.2 L152.3,277.8 L152.8,276.5 L153.3,275.2 L153.8,274.0 L154.3,272.8 L154.8,271.6 L155.3,270.4 L155.8,269.2 L156.3,267.9 L156.8,266.7 L157.3,265.4 L157.8,264.2 L158.3,263.1 L158.8,262.0 L159.3,260.9 L159.8,259.9 L160.3,258.9 L160.8,257.9 L161.3,256.9 L161.8,256.0 L162.3,255.0 L162.8,254.1 L163.3,253.2 L163.8,252.3 L164.3,251.5 L164.8,250.6 L165.3,249.8 L165.8,249.0 L166.3,248.1 L166.8,247.3 L167.3,246.5 L167.8,245.7 L168.3,245.0 L168.8,244.2 L169.3,243.4 L169.8,242.7 L170.3,241.9 L170.8,241.1 L171.3,240.4 L171.8,239.8 L172.3,239.2 L172.8,238.6 L173.3,238.1 L173.8,237.7 L174.3,237.2 L174.8,236.8 L175.3,236.3 L175.8,235.8 L176.3,235.3 L176.8,234.8 L177.3,234.3 L177.8,233.8 L178.3,233.4 L178.8,232.9 L179.3,232.5 L179.8,232.2 L180.3,231.8 L180.8,231.4 L181.3,231.1 L181.8,230.7 L182.3,230.4 L182.8,230.0 L183.3,229.7 L183.8,229.3 L184.3,229.0 L184.8,228.7 L185.3,228.3 L185.8,228.0 L186.3,227.7 L186.8,227.4 L187.3,227.1 L187.8,226.7 L188.3,226.4 L188.8,226.1 L189.3,225.8 L189.8,225.5 L190.3,225.2 L190.8,225.0 L191.3,224.7 L191.8,224.5 L192.3,224.2 L192.8,224.0 L193.3,223.8 L193.8,223.6 L194.3,223.5 L194.8,223.3 L195.3,223.1 L195.8,222.9 L196.3,222.7 L196.8,222.5 L197.3,222.3 L197.8,222.2 L198.3,222.0 L198.8,221.8 L199.3,221.6 L199.8,221.4 L200.3,221.2 L200.8,221.0 L201.3,220.9 L201.8,220.8 L202.3,220.6 L202.8,220.5 L203.3,220.4 L203.8,220.3 L204.3,220.2 L204.8,220.1 L205.3,220.0 L205.8,219.8 L206.3,219.6 L206.8,219.5 L207.3,219.3 L207.8,219.2 L208.3,219.0 L208.8,218.9 L209.3,218.8 L209.8,218.7 L210.3,218.6 L210.8,218.5 L211.3,218.4 L211.8,218.3 L212.3,218.2 L212.8,218.1 L213.3,217.9 L213.8,217.8 L214.3,217.7 L214.8,217.6 L215.3,217.5 L215.8,217.4 L216.3,217.2 L216.8,217.1 L217.3,217.0 L217.8,216.9 L218.3,216.8 L218.8,216.7 L219.3,216.6 L219.8,216.4 L220.3,216.3 L220.8,216.2 L221.3,216.1 L221.8,216.0 L222.3,215.9 L222.8,215.8 L223.3,215.7 L223.8,215.6 L224.3,215.5 L224.8,215.4 L225.3,215.3 L225.8,215.2 L226.3,215.1 L226.8,215.0 L227.3,214.9 L227.8,214.8 L228.3,214.7 L228.8,214.6 L229.3,214.5 L229.8,214.4 L230.3,214.3 L230.8,214.3 L231.3,214.2 L231.8,214.1 L232.3,214.1 L232.8,214.0 L233.3,213.9 L233.8,213.9 L234.3,213.8 L234.8,213.7 L235.3,213.7 L235.8,213.6 L236.3,213.6 L236.8,213.5 L237.3,213.4 L237.8,213.4 L238.3,213.3 L238.8,213.3 L239.3,213.2 L239.8,213.2 L240.3,213.1 L240.8,213.0 L241.3,213.0 L241.8,212.9 L242.3,212.9 L242.8,212.8 L243.3,212.8 L243.8,212.7 L244.3,212.7 L244.8,212.6 L245.3,212.6 L245.8,212.6 L246.3,212.5 L246.8,212.5 L247.3,212.5 L247.8,212.5 L248.3,212.4 L248.8,212.4 L249.3,212.4 L249.8,212.4 L250.3,212.4 L250.8,212.3 L251.3,212.3 L251.8,212.3 L252.3,212.3 L252.8,212.3 L253.3,212.2 L253.8,212.2 L254.3,212.2 L254.8,212.2 L255.3,212.2 L255.8,212.1 L256.3,212.1 L256.8,212.1 L257.3,212.1 L257.8,212.1 L258.3,212.1 L258.8,212.0 L259.3,212.0 L259.8,212.0 L260.3,212.0 L260.8,212.0 L261.3,212.0 L261.8,211.9 L262.3,211.9 L262.8,211.9 L263.3,211.9 L263.8,211.9 L264.3,211.8 L264.8,211.8 L265.3,211.8 L265.8,211.8 L266.3,211.8 L266.8,211.7 L267.3,211.7 L267.8,211.7 L268.3,211.7 L268.8,211.7 L269.3,211.7 L269.8,211.6 L270.3,211.6 L270.8,211.6 L271.3,211.6 L271.8,211.6 L272.3,211.6 L272.8,211.6 L273.3,211.5 L273.8,211.5 L274.3,211.5 L274.8,211.5 L275.3,211.5 L275.8,211.5 L276.3,211.5 L276.8,211.5 L277.3,211.4 L277.8,211.4 L278.3,211.4 L278.8,211.4 L279.3,211.4 L279.8,211.4 L280.3,211.4 L280.8,211.4 L281.3,211.4 L281.8,211.3 L282.3,211.3 L282.8,211.3 L283.3,211.3 L283.8,211.3 L284.3,211.3 L284.8,211.3 L285.3,211.3 L285.8,211.3 L286.3,211.3 L286.8,211.2 L287.3,211.2 L287.8,211.2 L288.3,211.2 L288.8,211.2 L289.3,211.2 L289.8,211.2 L290.3,211.2 L290.8,211.2 L291.3,211.2 L291.8,211.2 L292.3,211.1 L292.8,211.1 L293.3,211.1 L293.8,211.1 L294.3,211.1 L294.8,211.1 L295.3,211.1 L295.8,211.1 L296.3,211.1 L296.8,211.1 L297.3,211.1 L297.8,211.1 L298.3,211.1 L298.8,211.0 L299.3,211.0 L299.8,211.0 L300.3,211.0 L300.8,211.0 L301.3,211.0 L301.8,211.0 L302.3,211.0 L302.8,211.0 L303.3,211.0 L303.8,211.0 L304.3,211.0 L304.8,211.0 L305.3,211.0 L305.8,210.9 L306.3,210.9 L306.8,210.9 L307.3,210.9 L307.8,210.9 L308.3,210.9 L308.8,210.9 L309.3,210.9 L309.8,210.9 L310.3,210.9 L310.8,210.9 L311.3,210.9 L311.8,210.9 L312.3,210.9 L312.8,210.9 L313.3,210.9 L313.8,210.9 L314.3,210.9 L314.8,210.8 L315.3,210.8 L315.8,210.8 L316.3,210.8 L316.8,210.8 L317.3,210.8 L317.8,210.8 L318.3,210.8 L318.8,210.8 L319.3,210.8 L319.8,210.8 L320.3,210.8 L320.8,210.8 L321.3,210.8 L321.8,210.8 L322.3,210.8 L322.8,210.8 L323.3,210.8 L323.8,210.8 L324.3,210.7 L324.8,210.7 L325.3,210.7 L325.8,210.7 L326.3,210.7 L326.8,210.7 L327.3,210.7 L327.8,210.7 L328.3,210.7 L328.8,210.7 L329.3,210.7 L329.8,210.7 L330.3,210.7 L330.8,210.7 L331.3,210.7 L331.8,210.7 L332.3,210.7 L332.8,210.7 L333.3,210.7 L333.8,210.7 L334.3,210.7 L334.8,210.6 L335.3,210.6 L335.8,210.6 L336.3,210.6 L336.8,210.6 L337.3,210.6 L337.8,210.6 L338.3,210.6 L338.8,210.6 L339.3,210.6 L339.8,210.6 L340.3,210.6 L340.8,210.6 L341.3,210.6 L341.8,210.6 L342.3,210.6 L342.8,210.6 L343.3,210.6 L343.8,210.6 L344.3,210.6 L344.8,210.6 L345.3,210.6 L345.8,210.6 L346.3,210.6 L346.8,210.6 L347.3,210.6 L347.8,210.6 L348.3,210.6 L348.8,210.5 L349.3,210.5 L349.8,210.5 L350.3,210.5 L350.8,210.5 L351.3,210.5 L351.8,210.5 L352.3,210.5 L352.8,210.5 L353.3,210.5 L353.8,210.5 L354.3,210.5 L354.8,210.5 L355.3,210.5 L355.8,210.5 L356.3,210.5 L356.8,210.5 L357.3,210.5 L357.8,210.5" fill="none" stroke="#ff00ff" stroke-width="0.8" stroke-linejoin="round"/>
<path d="M81.80,357.16 L83.30,354.56 L80.30,354.56Z" fill="#ff00ff"/>
<path d="M85.04,356.75 L86.53,354.15 L83.54,354.15Z" fill="#ff00ff"/>
<path d="M88.28,356.18 L89.77,353.58 L86.78,353.58Z" fill="#ff00ff"/>
<path d="M91.52,355.47 L93.01,352.87 L90.02,352.87Z" fill="#ff00ff"/>
<path d="M94.76,354.44 L96.25,351.84 L93.26,351.84Z" fill="#ff00ff"/>
<path d="M98.00,353.17 L99.49,350.57 L96.50,350.57Z" fill="#ff00ff"/>
<path d="M101.24,351.80 L102.73,349.20 L99.74,349.20Z" fill="#ff00ff"/>
<path d="M104.48,350.45 L105.97,347.85 L102.98,347.85Z" fill="#ff00ff"/>
<path d="M107.72,349.01 L109.21,346.41 L106.22,346.41Z" fill="#ff00ff"/>
<path d="M110.96,347.37 L112.45,344.77 L109.46,344.77Z" fill="#ff00ff"/>
<path d="M114.20,345.50 L115.69,342.90 L112.70,342.90Z" fill="#ff00ff"/>
<path d="M117.44,343.88 L118.93,341.28 L115.94,341.28Z" fill="#ff00ff"/>
<path d="M120.68,341.82 L122.17,339.22 L119.18,339.22Z" fill="#ff00ff"/>
<path d="M123.91,339.44 L125.41,336.84 L122.42,336.84Z" fill="#ff00ff"/>
<path d="M127.15,334.85 L128.65,332.25 L125.66,332.25Z" fill="#ff00ff"/>
<path d="M130.39,330.86 L131.89,328.26 L128.90,328.26Z" fill="#ff00ff"/>
<path d="M133.63,325.59 L135.13,322.99 L132.14,322.99Z" fill="#ff00ff"/>
<path d="M136.87,319.56 L138.37,316.96 L135.38,316.96Z" fill="#ff00ff"/>
<path d="M140.11,313.15 L141.61,310.55 L138.62,310.55Z" fill="#ff00ff"/>
<path d="M143.35,305.73 L144.85,303.13 L141.86,303.13Z" fill="#ff00ff"/>
<path d="M146.59,296.56 L148.09,293.96 L145.10,293.96Z" fill="#ff00ff"/>
<path d="M149.83,286.28 L151.33,283.68 L148.34,283.68Z" fill="#ff00ff"/>
<path d="M153.07,277.39 L154.57,274.79 L151.58,274.79Z" fill="#ff00ff"/>
<path d="M156.31,269.45 L157.81,266.85 L154.82,266.85Z" fill="#ff00ff"/>
<path d="M159.55,261.94 L161.05,259.34 L158.06,259.34Z" fill="#ff00ff"/>
<path d="M162.79,255.70 L164.28,253.10 L161.29,253.10Z" fill="#ff00ff"/>
<path d="M166.03,250.15 L167.52,247.55 L164.53,247.55Z" fill="#ff00ff"/>
<path d="M169.27,245.05 L170.76,242.45 L167.77,242.45Z" fill="#ff00ff"/>
<path d="M172.51,240.50 L174.00,237.90 L171.01,237.90Z" fill="#ff00ff"/>
<path d="M175.75,237.42 L177.24,234.82 L174.25,234.82Z" fill="#ff00ff"/>
<path d="M178.99,234.34 L180.48,231.74 L177.49,231.74Z" fill="#ff00ff"/>
<path d="M182.23,232.00 L183.72,229.40 L180.73,229.40Z" fill="#ff00ff"/>
<path d="M185.47,229.78 L186.96,227.18 L183.97,227.18Z" fill="#ff00ff"/>
<path d="M188.71,227.76 L190.20,225.16 L187.21,225.16Z" fill="#ff00ff"/>
<path d="M191.95,225.96 L193.44,223.36 L190.45,223.36Z" fill="#ff00ff"/>
<path d="M195.19,224.69 L196.68,222.09 L193.69,222.09Z" fill="#ff00ff"/>
<path d="M198.43,223.49 L199.92,220.89 L196.93,220.89Z" fill="#ff00ff"/>
<path d="M201.67,222.35 L203.16,219.75 L200.17,219.75Z" fill="#ff00ff"/>
<path d="M204.90,221.65 L206.40,219.05 L203.41,219.05Z" fill="#ff00ff"/>
<path d="M208.14,220.64 L209.64,218.04 L206.65,218.04Z" fill="#ff00ff"/>
<path d="M211.38,219.97 L212.88,217.37 L209.89,217.37Z" fill="#ff00ff"/>
<path d="M214.62,219.18 L216.12,216.58 L213.13,216.58Z" fill="#ff00ff"/>
<path d="M217.86,218.45 L219.36,215.85 L216.37,215.85Z" fill="#ff00ff"/>
<path d="M221.10,217.69 L222.60,215.09 L219.61,215.09Z" fill="#ff00ff"/>
<path d="M224.34,217.01 L225.84,214.41 L222.85,214.41Z" fill="#ff00ff"/>
<path d="M227.58,216.41 L229.08,213.81 L226.09,213.81Z" fill="#ff00ff"/>
<path d="M230.82,215.82 L232.32,213.22 L229.33,213.22Z" fill="#ff00ff"/>
<path d="M234.06,215.38 L235.56,212.78 L232.57,212.78Z" fill="#ff00ff"/>
<path d="M237.30,215.01 L238.80,212.41 L235.81,212.41Z" fill="#ff00ff"/>
<path d="M240.54,214.64 L242.04,212.04 L239.05,212.04Z" fill="#ff00ff"/>
<path d="M243.78,214.29 L245.27,211.69 L242.28,211.69Z" fill="#ff00ff"/>
<path d="M247.02,214.06 L248.51,211.46 L245.52,211.46Z" fill="#ff00ff"/>
<path d="M250.26,213.92 L251.75,211.32 L248.76,211.32Z" fill="#ff00ff"/>
<path d="M253.50,213.79 L254.99,211.19 L252.00,211.19Z" fill="#ff00ff"/>
<path d="M256.74,213.68 L258.23,211.08 L255.24,211.08Z" fill="#ff00ff"/>
<path d="M259.98,213.56 L261.47,210.96 L258.48,210.96Z" fill="#ff00ff"/>
<path d="M263.22,213.44 L264.71,210.84 L261.72,210.84Z" fill="#ff00ff"/>
<path d="M266.46,213.32 L267.95,210.72 L264.96,210.72Z" fill="#ff00ff"/>
<path d="M269.70,213.21 L271.19,210.61 L268.20,210.61Z" fill="#ff00ff"/>
<path d="M272.94,213.11 L274.43,210.51 L271.44,210.51Z" fill="#ff00ff"/>
<path d="M276.18,213.03 L277.67,210.43 L274.68,210.43Z" fill="#ff00ff"/>
<path d="M279.42,212.96 L280.91,210.36 L277.92,210.36Z" fill="#ff00ff"/>
<path d="M282.66,212.89 L284.15,210.29 L281.16,210.29Z" fill="#ff00ff"/>
<path d="M285.89,212.83 L287.39,210.23 L284.40,210.23Z" fill="#ff00ff"/>
<path d="M289.13,212.76 L290.63,210.16 L287.64,210.16Z" fill="#ff00ff"/>
<path d="M292.37,212.71 L293.87,210.11 L290.88,210.11Z" fill="#ff00ff"/>
<path d="M295.61,212.65 L297.11,210.05 L294.12,210.05Z" fill="#ff00ff"/>
<path d="M298.85,212.60 L300.35,210.00 L297.36,210.00Z" fill="#ff00ff"/>
<path d="M302.09,212.56 L303.59,209.96 L300.60,209.96Z" fill="#ff00ff"/>
<path d="M305.33,212.52 L306.83,209.92 L303.84,209.92Z" fill="#ff00ff"/>
<path d="M308.57,212.48 L310.07,209.88 L307.08,209.88Z" fill="#ff00ff"/>
<path d="M311.81,212.44 L313.31,209.84 L310.32,209.84Z" fill="#ff00ff"/>
<path d="M315.05,212.40 L316.55,209.80 L313.56,209.80Z" fill="#ff00ff"/>
<path d="M318.29,212.37 L319.79,209.77 L316.80,209.77Z" fill="#ff00ff"/>
<path d="M321.53,212.34 L323.03,209.74 L320.04,209.74Z" fill="#ff00ff"/>
<path d="M324.77,212.30 L326.26,209.70 L323.27,209.70Z" fill="#ff00ff"/>
<path d="M328.01,212.27 L329.50,209.67 L326.51,209.67Z" fill="#ff00ff"/>
<path d="M331.25,212.24 L332.74,209.64 L329.75,209.64Z" fill="#ff00ff"/>
<path d="M334.49,212.21 L335.98,209.61 L332.99,209.61Z" fill="#ff00ff"/>
<path d="M337.73,212.18 L339.22,209.58 L336.23,209.58Z" fill="#ff00ff"/>
<path d="M340.97,212.16 L342.46,209.56 L339.47,209.56Z" fill="#ff00ff"/>
<path d="M344.21,212.14 L345.70,209.54 L342.71,209.54Z" fill="#ff00ff"/>
<path d="M347.45,212.12 L348.94,209.52 L345.95,209.52Z" fill="#ff00ff"/>
<path d="M350.69,212.10 L352.18,209.50 L349.19,209.50Z" fill="#ff00ff"/>
<path d="M353.93,212.08 L355.42,209.48 L352.43,209.48Z" fill="#ff00ff"/>
<path d="M81.8,381.4 L82.3,380.7 L82.8,379.9 L83.3,379.0 L83.8,378.0 L84.3,377.0 L84.8,375.9 L85.3,374.7 L85.8,373.4 L86.3,372.0 L86.8,370.4 L87.3,368.8 L87.8,367.0 L88.3,365.2 L88.8,363.2 L89.3,361.0 L89.8,358.7 L90.3,356.2 L90.8,353.6 L91.3,350.9 L91.8,348.1 L92.3,345.1 L92.8,341.9 L93.3,338.6 L93.8,335.2 L94.3,331.8 L94.8,328.4 L95.3,325.0 L95.8,321.3 L96.3,317.7 L96.8,314.1 L97.3,310.7 L97.8,307.6 L98.3,304.9 L98.8,302.3 L99.3,299.9 L99.8,297.6 L100.3,295.4 L100.8,293.5 L101.3,291.8 L101.8,290.2 L102.3,288.7 L102.8,287.3 L103.3,286.0 L103.8,284.8 L104.3,283.7 L104.8,282.7 L105.3,281.7 L105.8,280.8 L106.3,279.9 L106.8,279.1 L107.3,278.3 L107.8,277.6 L108.3,276.8 L108.8,276.1 L109.3,275.4 L109.8,274.8 L110.3,274.1 L110.8,273.6 L111.3,273.1 L111.8,272.7 L112.3,272.2 L112.8,271.9 L113.3,271.5 L113.8,271.2 L114.3,270.8 L114.8,270.5 L115.3,270.2 L115.8,269.9 L116.3,269.7 L116.8,269.4 L117.3,269.2 L117.8,269.1 L118.3,268.9 L118.8,268.8 L119.3,268.7 L119.8,268.6 L120.3,268.5 L120.8,268.4 L121.3,268.2 L121.8,268.1 L122.3,268.0 L122.8,267.9 L123.3,267.7 L123.8,267.6 L124.3,267.5 L124.8,267.4 L125.3,267.3 L125.8,267.1 L126.3,267.0 L126.8,266.9 L127.3,266.9 L127.8,266.9 L128.3,266.8 L128.8,266.8 L129.3,266.8 L129.8,266.7 L130.3,266.7 L130.8,266.7 L131.3,266.7 L131.8,266.6 L132.3,266.6 L132.8,266.6 L133.3,266.6 L133.8,266.6 L134.3,266.6 L134.8,266.5 L135.3,266.5 L135.8,266.5 L136.3,266.5 L136.8,266.5 L137.3,266.5 L137.8,266.5 L138.3,266.4 L138.8,266.4 L139.3,266.4 L139.8,266.4 L140.3,266.4 L140.8,266.4 L141.3,266.4 L141.8,266.4 L142.3,266.4 L142.8,266.3 L143.3,266.3 L143.8,266.3 L144.3,266.3 L144.8,266.3 L145.3,266.3 L145.8,266.3 L146.3,266.3 L146.8,266.3 L147.3,266.3 L147.8,266.3 L148.3,266.2 L148.8,266.2 L149.3,266.2 L149.8,266.2 L150.3,266.2 L150.8,266.2 L151.3,266.2 L151.8,266.1 L152.3,266.1 L152.8,266.1 L153.3,266.1 L153.8,266.1 L154.3,266.1 L154.8,266.0 L155.3,266.0 L155.8,266.0 L156.3,266.0 L156.8,265.9 L157.3,265.9 L157.8,265.9 L158.3,265.9 L158.8,265.9 L159.3,265.8 L159.8,265.8 L160.3,265.8 L160.8,265.8 L161.3,265.7 L161.8,265.7 L162.3,265.7 L162.8,265.7 L163.3,265.7 L163.8,265.6 L164.3,265.6 L164.8,265.6 L165.3,265.6 L165.8,265.6 L166.3,265.6 L166.8,265.6 L167.3,265.5 L167.8,265.5 L168.3,265.5 L168.8,265.5 L169.3,265.5 L169.8,265.5 L170.3,265.5 L170.8,265.5 L171.3,265.5 L171.8,265.5 L172.3,265.5 L172.8,265.5 L173.3,265.5 L173.8,265.5 L174.3,265.5 L174.8,265.5 L175.3,265.4 L175.8,265.4 L176.3,265.4 L176.8,265.4 L177.3,265.4 L177.8,265.4 L178.3,265.4 L178.8,265.4 L179.3,265.4 L179.8,265.4 L180.3,265.4 L180.8,265.4 L181.3,265.4 L181.8,265.4 L182.3,265.4 L182.8,265.4 L183.3,265.4 L183.8,265.4 L184.3,265.4 L184.8,265.4 L185.3,265.4 L185.8,265.4 L186.3,265.4 L186.8,265.4 L187.3,265.4 L187.8,265.4 L188.3,265.4 L188.8,265.4 L189.3,265.4 L189.8,265.4 L190.3,265.4 L190.8,265.4 L191.3,265.4 L191.8,265.4 L192.3,265.4 L192.8,265.4 L193.3,265.4 L193.8,265.4 L194.3,265.4 L194.8,265.4 L195.3,265.4 L195.8,265.4 L196.3,265.4 L196.8,265.4 L197.3,265.4 L197.8,265.4 L198.3,265.4 L198.8,265.4 L199.3,265.4 L199.8,265.4 L200.3,265.4 L200.8,265.4 L201.3,265.4 L201.8,265.4 L202.3,265.4 L202.8,265.4 L203.3,265.4 L203.8,265.4 L204.3,265.4 L204.8,265.4 L205.3,265.4 L205.8,265.4 L206.3,265.4 L206.8,265.4 L207.3,265.4 L207.8,265.4 L208.3,265.4 L208.8,265.4 L209.3,265.4 L209.8,265.4 L210.3,265.4 L210.8,265.4 L211.3,265.4 L211.8,265.4 L212.3,265.4 L212.8,265.4 L213.3,265.4 L213.8,265.4 L214.3,265.4 L214.8,265.4 L215.3,265.4 L215.8,265.4 L216.3,265.4 L216.8,265.4 L217.3,265.4 L217.8,265.4 L218.3,265.4 L218.8,265.4 L219.3,265.4 L219.8,265.4 L220.3,265.4 L220.8,265.4 L221.3,265.4 L221.8,265.4 L222.3,265.4 L222.8,265.4 L223.3,265.4 L223.8,265.4 L224.3,265.4 L224.8,265.4 L225.3,265.4 L225.8,265.4 L226.3,265.4 L226.8,265.4 L227.3,265.4 L227.8,265.4 L228.3,265.4 L228.8,265.4 L229.3,265.4 L229.8,265.4 L230.3,265.4 L230.8,265.4 L231.3,265.4 L231.8,265.4 L232.3,265.4 L232.8,265.4 L233.3,265.4 L233.8,265.4 L234.3,265.4 L234.8,265.4 L235.3,265.4 L235.8,265.4 L236.3,265.4 L236.8,265.4 L237.3,265.4 L237.8,265.4 L238.3,265.4 L238.8,265.4 L239.3,265.4 L239.8,265.4 L240.3,265.4 L240.8,265.4 L241.3,265.4 L241.8,265.4 L242.3,265.4 L242.8,265.4 L243.3,265.4 L243.8,265.4 L244.3,265.4 L244.8,265.4 L245.3,265.4 L245.8,265.4 L246.3,265.4 L246.8,265.4 L247.3,265.4 L247.8,265.4 L248.3,265.4 L248.8,265.4 L249.3,265.4 L249.8,265.4 L250.3,265.4 L250.8,265.4 L251.3,265.4 L251.8,265.4 L252.3,265.4 L252.8,265.4 L253.3,265.4 L253.8,265.4 L254.3,265.4 L254.8,265.4 L255.3,265.4 L255.8,265.4 L256.3,265.4 L256.8,265.4 L257.3,265.4 L257.8,265.4 L258.3,265.4 L258.8,265.4 L259.3,265.4 L259.8,265.4 L260.3,265.4 L260.8,265.4 L261.3,265.4 L261.8,265.4 L262.3,265.4 L262.8,265.4 L263.3,265.4 L263.8,265.4 L264.3,265.4 L264.8,265.4 L265.3,265.4 L265.8,265.4 L266.3,265.4 L266.8,265.4 L267.3,265.4 L267.8,265.4 L268.3,265.4 L268.8,265.4 L269.3,265.4 L269.8,265.4 L270.3,265.4 L270.8,265.4 L271.3,265.4 L271.8,265.4 L272.3,265.4 L272.8,265.4 L273.3,265.4 L273.8,265.4 L274.3,265.4 L274.8,265.4 L275.3,265.4 L275.8,265.4 L276.3,265.4 L276.8,265.4 L277.3,265.4 L277.8,265.4 L278.3,265.4 L278.8,265.4 L279.3,265.4 L279.8,265.4 L280.3,265.4 L280.8,265.4 L281.3,265.4 L281.8,265.4 L282.3,265.4 L282.8,265.4 L283.3,265.4 L283.8,265.4 L284.3,265.4 L284.8,265.4 L285.3,265.4 L285.8,265.4 L286.3,265.4 L286.8,265.4 L287.3,265.4 L287.8,265.4 L288.3,265.4 L288.8,265.4 L289.3,265.4 L289.8,265.4 L290.3,265.4 L290.8,265.4 L291.3,265.4 L291.8,265.4 L292.3,265.4 L292.8,265.4 L293.3,265.4 L293.8,265.4 L294.3,265.4 L294.8,265.4 L295.3,265.4 L295.8,265.4 L296.3,265.4 L296.8,265.4 L297.3,265.4 L297.8,265.4 L298.3,265.4 L298.8,265.4 L299.3,265.4 L299.8,265.4 L300.3,265.4 L300.8,265.4 L301.3,265.4 L301.8,265.4 L302.3,265.4 L302.8,265.4 L303.3,265.4 L303.8,265.4 L304.3,265.4 L304.8,265.4 L305.3,265.4 L305.8,265.4 L306.3,265.4 L306.8,265.4 L307.3,265.4 L307.8,265.4 L308.3,265.4 L308.8,265.4 L309.3,265.4 L309.8,265.4 L310.3,265.4 L310.8,265.4 L311.3,265.4 L311.8,265.4 L312.3,265.4 L312.8,265.4 L313.3,265.4 L313.8,265.4 L314.3,265.4 L314.8,265.4 L315.3,265.4 L315.8,265.4 L316.3,265.4 L316.8,265.4 L317.3,265.4 L317.8,265.4 L318.3,265.4 L318.8,265.4 L319.3,265.4 L319.8,265.4 L320.3,265.4 L320.8,265.4 L321.3,265.4 L321.8,265.4 L322.3,265.4 L322.8,265.4 L323.3,265.4 L323.8,265.4 L324.3,265.4 L324.8,265.4 L325.3,265.4 L325.8,265.4 L326.3,265.4 L326.8,265.4 L327.3,265.4 L327.8,265.4 L328.3,265.4 L328.8,265.4 L329.3,265.4 L329.8,265.4 L330.3,265.4 L330.8,265.4 L331.3,265.4 L331.8,265.4 L332.3,265.4 L332.8,265.4 L333.3,265.4 L333.8,265.4 L334.3,265.4 L334.8,265.4 L335.3,265.4 L335.8,265.4 L336.3,265.4 L336.8,265.4 L337.3,265.4 L337.8,265.4 L338.3,265.4 L338.8,265.4 L339.3,265.4 L339.8,265.4 L340.3,265.4 L340.8,265.4 L341.3,265.4 L341.8,265.4 L342.3,265.4 L342.8,265.4 L343.3,265.4 L343.8,265.4 L344.3,265.4 L344.8,265.4 L345.3,265.4 L345.8,265.4 L346.3,265.4 L346.8,265.4 L347.3,265.4 L347.8,265.4 L348.3,265.4 L348.8,265.4 L349.3,265.4 L349.8,265.4 L350.3,265.4 L350.8,265.4 L351.3,265.4 L351.8,265.4 L352.3,265.4 L352.8,265.4 L353.3,265.4 L353.8,265.4 L354.3,265.4 L354.8,265.4 L355.3,265.4 L355.8,265.4 L356.3,265.4 L356.8,265.4 L357.3,265.4 L357.8,265.4" fill="none" stroke="#007e38" stroke-width="0.65" stroke-linejoin="round"/>
<circle cx="81.80" cy="381.40" r="1.25" fill="#007e38"/>
<circle cx="85.04" cy="375.31" r="1.25" fill="#007e38"/>
<circle cx="88.28" cy="365.28" r="1.25" fill="#007e38"/>
<circle cx="91.52" cy="349.70" r="1.25" fill="#007e38"/>
<circle cx="94.76" cy="328.68" r="1.25" fill="#007e38"/>
<circle cx="98.00" cy="306.51" r="1.25" fill="#007e38"/>
<circle cx="101.24" cy="291.97" r="1.25" fill="#007e38"/>
<circle cx="104.48" cy="283.35" r="1.25" fill="#007e38"/>
<circle cx="107.72" cy="277.67" r="1.25" fill="#007e38"/>
<circle cx="110.96" cy="273.44" r="1.25" fill="#007e38"/>
<circle cx="114.20" cy="270.90" r="1.25" fill="#007e38"/>
<circle cx="117.44" cy="269.19" r="1.25" fill="#007e38"/>
<circle cx="120.68" cy="268.41" r="1.25" fill="#007e38"/>
<circle cx="123.91" cy="267.60" r="1.25" fill="#007e38"/>
<circle cx="127.15" cy="266.90" r="1.25" fill="#007e38"/>
<circle cx="130.39" cy="266.70" r="1.25" fill="#007e38"/>
<circle cx="133.63" cy="266.58" r="1.25" fill="#007e38"/>
<circle cx="136.87" cy="266.48" r="1.25" fill="#007e38"/>
<circle cx="140.11" cy="266.40" r="1.25" fill="#007e38"/>
<circle cx="143.35" cy="266.33" r="1.25" fill="#007e38"/>
<circle cx="146.59" cy="266.27" r="1.25" fill="#007e38"/>
<circle cx="149.83" cy="266.20" r="1.25" fill="#007e38"/>
<circle cx="153.07" cy="266.10" r="1.25" fill="#007e38"/>
<circle cx="156.31" cy="265.97" r="1.25" fill="#007e38"/>
<circle cx="159.55" cy="265.83" r="1.25" fill="#007e38"/>
<circle cx="162.79" cy="265.68" r="1.25" fill="#007e38"/>
<circle cx="166.03" cy="265.58" r="1.25" fill="#007e38"/>
<circle cx="169.27" cy="265.51" r="1.25" fill="#007e38"/>
<circle cx="172.51" cy="265.46" r="1.25" fill="#007e38"/>
<circle cx="175.75" cy="265.45" r="1.25" fill="#007e38"/>
<circle cx="178.99" cy="265.45" r="1.25" fill="#007e38"/>
<circle cx="182.23" cy="265.45" r="1.25" fill="#007e38"/>
<circle cx="185.47" cy="265.45" r="1.25" fill="#007e38"/>
<circle cx="188.71" cy="265.45" r="1.25" fill="#007e38"/>
<circle cx="191.95" cy="265.45" r="1.25" fill="#007e38"/>
<circle cx="195.19" cy="265.45" r="1.25" fill="#007e38"/>
<circle cx="198.43" cy="265.45" r="1.25" fill="#007e38"/>
<circle cx="201.67" cy="265.45" r="1.25" fill="#007e38"/>
<circle cx="204.90" cy="265.45" r="1.25" fill="#007e38"/>
<circle cx="208.14" cy="265.45" r="1.25" fill="#007e38"/>
<circle cx="211.38" cy="265.45" r="1.25" fill="#007e38"/>
<circle cx="214.62" cy="265.45" r="1.25" fill="#007e38"/>
<circle cx="217.86" cy="265.45" r="1.25" fill="#007e38"/>
<circle cx="221.10" cy="265.45" r="1.25" fill="#007e38"/>
<circle cx="224.34" cy="265.45" r="1.25" fill="#007e38"/>
<circle cx="227.58" cy="265.45" r="1.25" fill="#007e38"/>
<circle cx="230.82" cy="265.45" r="1.25" fill="#007e38"/>
<circle cx="234.06" cy="265.45" r="1.25" fill="#007e38"/>
<circle cx="237.30" cy="265.45" r="1.25" fill="#007e38"/>
<circle cx="240.54" cy="265.45" r="1.25" fill="#007e38"/>
<circle cx="243.78" cy="265.45" r="1.25" fill="#007e38"/>
<circle cx="247.02" cy="265.45" r="1.25" fill="#007e38"/>
<circle cx="250.26" cy="265.45" r="1.25" fill="#007e38"/>
<circle cx="253.50" cy="265.45" r="1.25" fill="#007e38"/>
<circle cx="256.74" cy="265.45" r="1.25" fill="#007e38"/>
<circle cx="259.98" cy="265.45" r="1.25" fill="#007e38"/>
<circle cx="263.22" cy="265.45" r="1.25" fill="#007e38"/>
<circle cx="266.46" cy="265.45" r="1.25" fill="#007e38"/>
<circle cx="269.70" cy="265.45" r="1.25" fill="#007e38"/>
<circle cx="272.94" cy="265.45" r="1.25" fill="#007e38"/>
<circle cx="276.18" cy="265.45" r="1.25" fill="#007e38"/>
<circle cx="279.42" cy="265.45" r="1.25" fill="#007e38"/>
<circle cx="282.66" cy="265.45" r="1.25" fill="#007e38"/>
<circle cx="285.89" cy="265.45" r="1.25" fill="#007e38"/>
<circle cx="289.13" cy="265.45" r="1.25" fill="#007e38"/>
<circle cx="292.37" cy="265.45" r="1.25" fill="#007e38"/>
<circle cx="295.61" cy="265.45" r="1.25" fill="#007e38"/>
<circle cx="298.85" cy="265.45" r="1.25" fill="#007e38"/>
<circle cx="302.09" cy="265.45" r="1.25" fill="#007e38"/>
<circle cx="305.33" cy="265.45" r="1.25" fill="#007e38"/>
<circle cx="308.57" cy="265.45" r="1.25" fill="#007e38"/>
<circle cx="311.81" cy="265.45" r="1.25" fill="#007e38"/>
<circle cx="315.05" cy="265.45" r="1.25" fill="#007e38"/>
<circle cx="318.29" cy="265.45" r="1.25" fill="#007e38"/>
<circle cx="321.53" cy="265.45" r="1.25" fill="#007e38"/>
<circle cx="324.77" cy="265.45" r="1.25" fill="#007e38"/>
<circle cx="328.01" cy="265.45" r="1.25" fill="#007e38"/>
<circle cx="331.25" cy="265.45" r="1.25" fill="#007e38"/>
<circle cx="334.49" cy="265.45" r="1.25" fill="#007e38"/>
<circle cx="337.73" cy="265.45" r="1.25" fill="#007e38"/>
<circle cx="340.97" cy="265.45" r="1.25" fill="#007e38"/>
<circle cx="344.21" cy="265.45" r="1.25" fill="#007e38"/>
<circle cx="347.45" cy="265.45" r="1.25" fill="#007e38"/>
<circle cx="350.69" cy="265.45" r="1.25" fill="#007e38"/>
<circle cx="353.93" cy="265.45" r="1.25" fill="#007e38"/>
</g>
<defs><clipPath id="cp"><rect x="81.39999999999999" y="144.7" width="300" height="253.0"/></clipPath></defs>
<path d="M358,144.7 L81.8,144.7 L81.8,397.7 L358,397.7" fill="none" stroke="#000" stroke-width="1.25" stroke-linejoin="miter"/>
<path d="M107.72,397.7 v-2.8 M107.72,144.7 v2.8 M133.63,397.7 v-5.0 M133.63,144.7 v5.0 M159.55,397.7 v-2.8 M159.55,144.7 v2.8 M185.47,397.7 v-5.0 M185.47,144.7 v5.0 M211.38,397.7 v-2.8 M211.38,144.7 v2.8 M237.30,397.7 v-5.0 M237.30,144.7 v5.0 M263.22,397.7 v-2.8 M263.22,144.7 v2.8 M289.13,397.7 v-5.0 M289.13,144.7 v5.0 M315.05,397.7 v-2.8 M315.05,144.7 v2.8 M340.97,397.7 v-5.0 M340.97,144.7 v5.0 M81.8,374.99 h2.8 M81.8,354.90 h2.8 M81.8,336.89 h2.8 M81.8,320.56 h2.8 M81.8,305.62 h2.8 M81.8,291.87 h2.8 M81.8,279.12 h2.8 M81.8,267.24 h2.8 M81.8,256.11 h5.0 M81.8,245.65 h2.8 M81.8,235.79 h2.8 M81.8,226.45 h2.8 M81.8,217.58 h2.8 M81.8,209.15 h2.8 M81.8,201.10 h2.8 M81.8,193.41 h2.8 M81.8,186.04 h2.8 M81.8,178.97 h5.0 M81.8,172.17 h2.8 M81.8,165.63 h2.8 M81.8,159.33 h2.8 M81.8,153.24 h2.8 M81.8,147.37 h2.8" fill="none" stroke="#000" stroke-width="1.1"/>
<g font-family="Liberation Sans, sans-serif">
<text x="76.2" y="401.1" font-size="10" text-anchor="end" fill="#000" stroke="#000" stroke-width="0.3" >0.4</text>
<text x="76.2" y="259.5" font-size="10" text-anchor="end" fill="#000" stroke="#000" stroke-width="0.3" >0.9</text>
<text x="76.2" y="182.4" font-size="10" text-anchor="end" fill="#000" stroke="#000" stroke-width="0.3" >1.4</text>
<text x="82.0" y="411.7" font-size="10" text-anchor="middle" fill="#000" stroke="#000" stroke-width="0.3" letter-spacing="0.25">200</text>
<text x="133.8" y="411.7" font-size="10" text-anchor="middle" fill="#000" stroke="#000" stroke-width="0.3" letter-spacing="0.25">1000</text>
<text x="185.7" y="411.7" font-size="10" text-anchor="middle" fill="#000" stroke="#000" stroke-width="0.3" letter-spacing="0.25">1800</text>
<text x="237.5" y="411.7" font-size="10" text-anchor="middle" fill="#000" stroke="#000" stroke-width="0.3" letter-spacing="0.25">2600</text>
<text x="289.3" y="411.7" font-size="10" text-anchor="middle" fill="#000" stroke="#000" stroke-width="0.3" letter-spacing="0.25">3400</text>
<text x="329.3" y="411.7" font-size="10" text-anchor="start" fill="#000" stroke="#000" stroke-width="0.3" letter-spacing="0.4">4200</text>
<text x="220.0" y="431.9" font-size="13" text-anchor="start" fill="#000" stroke="#000" stroke-width="0.3" letter-spacing="-0.15">Time t</text>
<text transform="translate(43.1,334.6) rotate(-90)" font-size="13" letter-spacing="-0.17" fill="#000" stroke="#000" stroke-width="0.3">Maximum height h<tspan font-size="8" dy="4.3" dx="0.3" stroke-width="0.1" letter-spacing="0">max</tspan></text>
<text x="264.1" y="165.3" font-size="9.9" text-anchor="start" fill="#0000ff" stroke="#0000ff" stroke-width="0.25" letter-spacing="-0.25">2% misfit (256*256)</text>
<text x="296.4" y="208.6" font-size="9.8" text-anchor="start" fill="#ff00ff" stroke="#ff00ff" stroke-width="0.2" letter-spacing="-0.08">2.5% misfit (256*256)</text>
<text x="294.6" y="233.9" font-size="9.8" text-anchor="start" fill="#ff0000" stroke="#ff0000" stroke-width="0.2" letter-spacing="-0.08">2.5% misfit (512*512)</text>
<text x="264.4" y="260.3" font-size="9.8" text-anchor="start" fill="#000" stroke="#000" stroke-width="0.2" letter-spacing="-0.2">3% misfit (512*512)</text>
<text x="262.5" y="279.5" font-size="9.8" text-anchor="start" fill="#008000" stroke="#008000" stroke-width="0.2" letter-spacing="-0.2">3% misfit (256*256)</text>
</g>
</svg>
</body></html>
